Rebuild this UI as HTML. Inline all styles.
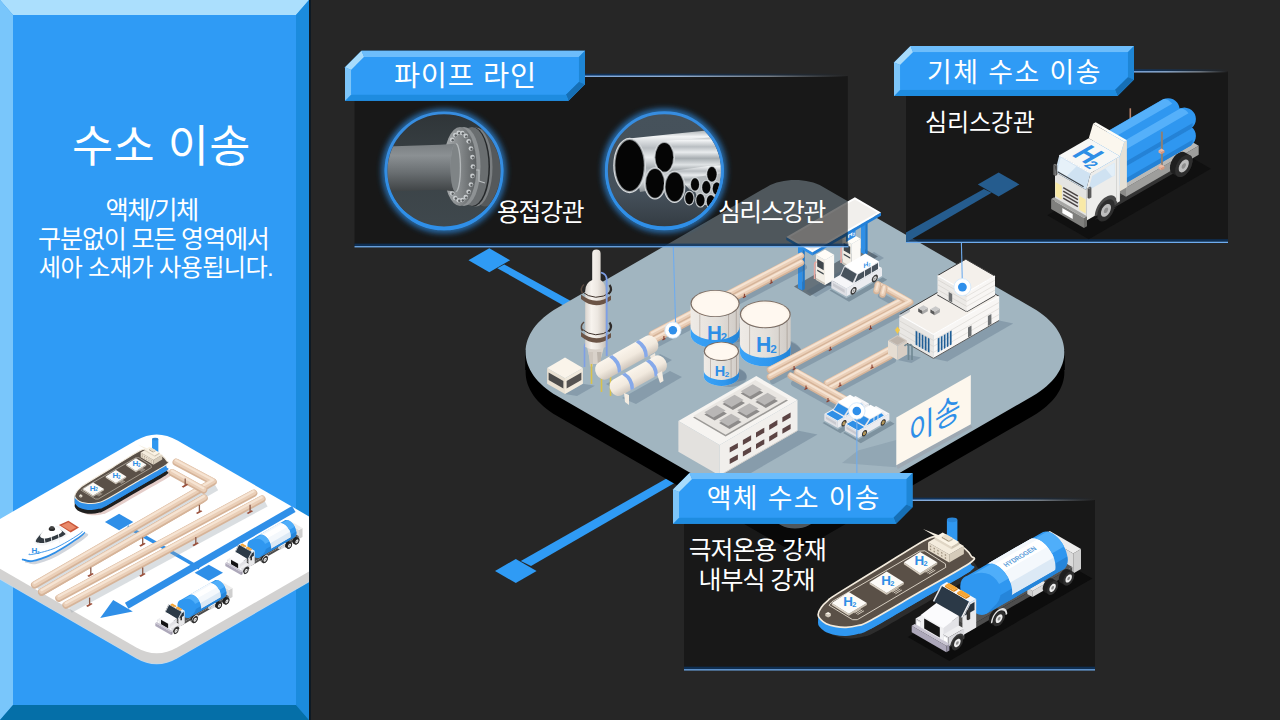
<!DOCTYPE html>
<html><head><meta charset="utf-8"><title>수소 이송</title>
<style>html,body{margin:0;padding:0;background:#262626;width:1280px;height:720px;overflow:hidden;font-family:"Liberation Sans",sans-serif}</style>
</head><body>
<svg width="1280" height="720" viewBox="0 0 1280 720" style="display:block">
<defs><clipPath id="lpclip"><rect x="0" y="400" width="309" height="300"/></clipPath>
<linearGradient id="tankg" x1="0" x2="1" y1="0" y2="0"><stop offset="0" stop-color="#EFEBE6"/><stop offset="0.55" stop-color="#E3DFDA"/><stop offset="1" stop-color="#CFCAC5"/></linearGradient>
<linearGradient id="bandg" x1="0" x2="1" y1="0" y2="0"><stop offset="0" stop-color="#3BA3F7"/><stop offset="0.6" stop-color="#2F97EE"/><stop offset="1" stop-color="#2283D6"/></linearGradient>
<linearGradient id="towg" x1="0" x2="1" y1="0" y2="0"><stop offset="0" stop-color="#DAD4CE"/><stop offset="0.3" stop-color="#F7F3EE"/><stop offset="0.6" stop-color="#ECE7E1"/><stop offset="1" stop-color="#C9C2BB"/></linearGradient>
<linearGradient id="htg" x1="0" x2="0" y1="0" y2="1"><stop offset="0" stop-color="#FBF5EC"/><stop offset="0.55" stop-color="#F1E9DE"/><stop offset="1" stop-color="#CFC6BC"/></linearGradient>
<linearGradient id="lnf" x1="0" x2="1" y1="0" y2="0"><stop offset="0" stop-color="#8DB9F0"/><stop offset="0.35" stop-color="#9DBBE0"/><stop offset="0.7" stop-color="#9aa3ad" stop-opacity="0.8"/><stop offset="1" stop-color="#8a8f96" stop-opacity="0"/></linearGradient>
<linearGradient id="lng" x1="0" x2="1" y1="0" y2="0"><stop offset="0" stop-color="#0B3566" stop-opacity="0.9"/><stop offset="0.5" stop-color="#0B3566" stop-opacity="0.5"/><stop offset="1" stop-color="#0B3566" stop-opacity="0"/></linearGradient>
<filter id="glow" x="-30%" y="-30%" width="160%" height="160%"><feGaussianBlur stdDeviation="3.2"/></filter>
<clipPath id="c1"><circle cx="444" cy="170.9" r="56.5"/></clipPath>
<clipPath id="c2"><circle cx="664.4" cy="170.8" r="56.5"/></clipPath>
<linearGradient id="pg1" x1="0" x2="0" y1="0" y2="1"><stop offset="0" stop-color="#7a7f82"/><stop offset="0.25" stop-color="#8b9093"/><stop offset="0.6" stop-color="#6a6f72"/><stop offset="1" stop-color="#3f4345"/></linearGradient>
<linearGradient id="fl1" x1="0" x2="1" y1="0" y2="0"><stop offset="0" stop-color="#a9adaf"/><stop offset="0.5" stop-color="#85898b"/><stop offset="1" stop-color="#5b5f61"/></linearGradient>
<linearGradient id="sil" x1="0" x2="0" y1="0" y2="1"><stop offset="0" stop-color="#9aa0a4"/><stop offset="0.12" stop-color="#f2f4f5"/><stop offset="0.3" stop-color="#b9bec2"/><stop offset="0.45" stop-color="#e9ecee"/><stop offset="0.62" stop-color="#a7adb1"/><stop offset="0.8" stop-color="#dfe3e5"/><stop offset="1" stop-color="#8c9296"/></linearGradient>
<linearGradient id="cbg2" x1="0" x2="0" y1="0" y2="1"><stop offset="0" stop-color="#46525b"/><stop offset="0.7" stop-color="#45505a"/><stop offset="1" stop-color="#333b42"/></linearGradient>
<linearGradient id="cbg1" x1="0" x2="0" y1="0" y2="1"><stop offset="0" stop-color="#2f3538"/><stop offset="0.5" stop-color="#3b4347"/><stop offset="1" stop-color="#3f484d"/></linearGradient></defs>
<rect width="1280" height="720" fill="#262626"/>
<rect x="0" y="0" width="309" height="720" fill="#2F9BF5"/>
<polygon points="0.0,0.0 309.0,0.0 296.0,15.0 13.0,15.0" fill="#ABDFFD" />
<polygon points="0.0,0.0 13.0,15.0 13.0,705.0 0.0,720.0" fill="#79C6FB" />
<polygon points="309.0,0.0 309.0,720.0 296.0,705.0 296.0,15.0" fill="#1B8BDD" />
<polygon points="0.0,720.0 13.0,705.0 296.0,705.0 309.0,720.0" fill="#056FA8" />
<rect x="309" y="0" width="2" height="720" fill="#0e1a24"/>
<g clip-path="url(#lpclip)">
<path d="M-43.2,554.8 L135.9,451.4 Q156.7,439.4 177.5,451.4 L356.6,554.8 L177.5,658.2 Q156.7,670.2 135.9,658.2 Z" fill="#BFD9EE"/>
<path d="M-43.2,554.1 L135.9,450.7 Q156.7,438.7 177.5,450.7 L356.6,554.1 L177.5,657.5 Q156.7,669.5 135.9,657.5 Z" fill="#D3D2D1"/>
<rect x="-40" y="543.9" width="400" height="10.2" fill="#D3D2D1"/>
<path d="M-43.2,543.9 L135.9,440.5 Q156.7,428.5 177.5,440.5 L356.6,543.9 L177.5,647.3 Q156.7,659.3 135.9,647.3 Z" fill="#FFFFFF"/>
<g transform="translate(-416.1 127.2) scale(0.6)"><path d="M818.1,614.7 C818.2,612.7 819.5,609.9 821.2,607.5 C822.8,605.1 825.4,602.5 828.1,600.3 C830.7,598.0 828.1,599.6 837.1,593.9 C846.1,588.3 867.2,575.5 882.2,566.3 C897.2,557.1 917.7,543.5 927.3,538.9 C937.0,534.2 935.5,537.9 940.0,538.5 C944.5,539.1 950.2,540.8 954.4,542.5 C958.6,544.2 962.4,546.6 965.2,548.8 C968.0,551.1 970.3,553.7 971.2,556.0 C972.0,558.3 978.8,556.8 970.3,562.7 C961.8,568.7 936.9,582.1 920.1,591.8 C903.3,601.5 879.9,615.4 869.6,621.0 C859.2,626.6 861.7,624.5 857.8,625.5 C853.9,626.6 849.9,627.2 846.1,627.3 C842.3,627.5 838.6,627.0 835.3,626.4 C832.0,625.8 828.7,624.9 826.2,623.7 C823.8,622.5 821.8,620.7 820.5,619.2 C819.1,617.7 818.0,616.6 818.1,614.7 Z" fill="rgba(225,200,195,0.9)" transform="translate(6,19.5)"/>
<path d="M818.1,614.7 C818.2,612.7 819.5,609.9 821.2,607.5 C822.8,605.1 825.4,602.5 828.1,600.3 C830.7,598.0 828.1,599.6 837.1,593.9 C846.1,588.3 867.2,575.5 882.2,566.3 C897.2,557.1 917.7,543.5 927.3,538.9 C937.0,534.2 935.5,537.9 940.0,538.5 C944.5,539.1 950.2,540.8 954.4,542.5 C958.6,544.2 962.4,546.6 965.2,548.8 C968.0,551.1 970.3,553.7 971.2,556.0 C972.0,558.3 978.8,556.8 970.3,562.7 C961.8,568.7 936.9,582.1 920.1,591.8 C903.3,601.5 879.9,615.4 869.6,621.0 C859.2,626.6 861.7,624.5 857.8,625.5 C853.9,626.6 849.9,627.2 846.1,627.3 C842.3,627.5 838.6,627.0 835.3,626.4 C832.0,625.8 828.7,624.9 826.2,623.7 C823.8,622.5 821.8,620.7 820.5,619.2 C819.1,617.7 818.0,616.6 818.1,614.7 Z" fill="#1f1f1f" transform="translate(0,17.0)"/>
<polygon points="818.1,614.7 970.3,562.7 970.3,579.7 818.1,631.7" fill="#1f1f1f" />
<path d="M818.1,625.2 C818.2,623.3 819.5,620.4 821.2,618.0 C822.8,615.6 825.4,613.0 828.1,610.8 C830.7,608.5 828.1,610.1 837.1,604.5 C846.1,598.8 867.2,586.0 882.2,576.9 C897.2,567.7 917.7,554.1 927.3,549.4 C937.0,544.8 935.5,548.5 940.0,549.1 C944.5,549.7 950.2,551.3 954.4,553.0 C958.6,554.7 962.4,557.1 965.2,559.3 C968.0,561.6 970.3,564.3 971.2,566.6 C972.0,568.9 978.8,567.3 970.3,573.2 C961.8,579.2 936.9,592.6 920.1,602.3 C903.3,612.0 879.9,625.9 869.6,631.6 C859.2,637.2 861.7,635.0 857.8,636.1 C853.9,637.1 849.9,637.7 846.1,637.9 C842.3,638.0 838.6,637.6 835.3,637.0 C832.0,636.4 828.7,635.5 826.2,634.3 C823.8,633.1 821.8,631.2 820.5,629.7 C819.1,628.2 818.0,627.2 818.1,625.2 Z" fill="#2F8FE8"/>
<polygon points="818.1,614.7 970.3,562.7 970.3,573.2 818.1,625.2" fill="#2F8FE8" />
<polygon points="970.3,562.7 869.6,621.0 869.6,631.6 970.3,573.2" fill="#2F8FE8" />
<path d="M818.1,614.7 C818.2,612.7 819.5,609.9 821.2,607.5 C822.8,605.1 825.4,602.5 828.1,600.3 C830.7,598.0 828.1,599.6 837.1,593.9 C846.1,588.3 867.2,575.5 882.2,566.3 C897.2,557.1 917.7,543.5 927.3,538.9 C937.0,534.2 935.5,537.9 940.0,538.5 C944.5,539.1 950.2,540.8 954.4,542.5 C958.6,544.2 962.4,546.6 965.2,548.8 C968.0,551.1 970.3,553.7 971.2,556.0 C972.0,558.3 978.8,556.8 970.3,562.7 C961.8,568.7 936.9,582.1 920.1,591.8 C903.3,601.5 879.9,615.4 869.6,621.0 C859.2,626.6 861.7,624.5 857.8,625.5 C853.9,626.6 849.9,627.2 846.1,627.3 C842.3,627.5 838.6,627.0 835.3,626.4 C832.0,625.8 828.7,624.9 826.2,623.7 C823.8,622.5 821.8,620.7 820.5,619.2 C819.1,617.7 818.0,616.6 818.1,614.7 Z" fill="#5A5047" stroke="#F3EBDD" stroke-width="1.7" stroke-linejoin="round"/>
<polygon points="829.0,605.3 832.0,601.7 919.4,551.2 924.8,550.8 945.4,563.8 945.7,567.4 857.3,619.7 852.6,619.7" fill="none" stroke="#F3EBDD" stroke-width="0.8" stroke-linejoin="round"/>
<polygon points="831.7,603.0 848.8,613.8 848.8,615.8 831.7,605.0" fill="#D9D0C2" />
<polygon points="848.8,613.8 866.9,603.0 866.9,605.0 848.8,615.8" fill="#C9C0B2" />
<polygon points="831.7,603.0 848.8,592.1 866.9,603.0 848.8,613.8" fill="#FDFBF7" />
<g fill="#2E8EE6" transform="translate(844.10 605.76) skewY(0.0)"><text x="-0.89" y="0" font-family="Liberation Sans, sans-serif" font-weight="bold" font-size="13.4">H<tspan x="8.16" dy="1.1" font-size="7.4">2</tspan></text></g>
<line x1="854.3" y1="612.8" x2="860.8" y2="609.0" stroke="#EDE4D6" stroke-width="0.80" />
<line x1="855.9" y1="613.7" x2="862.4" y2="609.9" stroke="#EDE4D6" stroke-width="0.80" />
<line x1="857.5" y1="614.6" x2="864.0" y2="610.8" stroke="#EDE4D6" stroke-width="0.80" />
<polygon points="869.6,582.2 886.7,593.0 886.7,595.0 869.6,584.2" fill="#D9D0C2" />
<polygon points="886.7,593.0 903.9,582.2 903.9,584.2 886.7,595.0" fill="#C9C0B2" />
<polygon points="869.6,582.2 886.7,571.4 903.9,582.2 886.7,593.0" fill="#FDFBF7" />
<g fill="#2E8EE6" transform="translate(882.00 585.36) skewY(0.0)"><text x="-0.89" y="0" font-family="Liberation Sans, sans-serif" font-weight="bold" font-size="13.4">H<tspan x="8.16" dy="1.1" font-size="7.4">2</tspan></text></g>
<line x1="892.2" y1="592.0" x2="898.7" y2="588.2" stroke="#EDE4D6" stroke-width="0.80" />
<line x1="893.8" y1="592.9" x2="900.3" y2="589.1" stroke="#EDE4D6" stroke-width="0.80" />
<line x1="895.4" y1="593.8" x2="901.9" y2="590.0" stroke="#EDE4D6" stroke-width="0.80" />
<polygon points="903.9,562.3 920.1,573.2 920.1,575.2 903.9,564.3" fill="#D9D0C2" />
<polygon points="920.1,573.2 937.3,562.3 937.3,564.3 920.1,575.2" fill="#C9C0B2" />
<polygon points="903.9,562.3 920.1,551.9 937.3,562.3 920.1,573.2" fill="#FDFBF7" />
<g fill="#2E8EE6" transform="translate(915.39 565.14) skewY(0.0)"><text x="-0.89" y="0" font-family="Liberation Sans, sans-serif" font-weight="bold" font-size="13.4">H<tspan x="8.16" dy="1.1" font-size="7.4">2</tspan></text></g>
<line x1="925.6" y1="572.2" x2="932.1" y2="568.4" stroke="#EDE4D6" stroke-width="0.80" />
<line x1="927.2" y1="573.1" x2="933.7" y2="569.3" stroke="#EDE4D6" stroke-width="0.80" />
<line x1="928.8" y1="574.0" x2="935.3" y2="570.2" stroke="#EDE4D6" stroke-width="0.80" />
<polygon points="825.3,613.5 828.1,615.1 828.1,617.5 825.3,615.9" fill="#CFC6B8" />
<polygon points="828.1,615.1 830.8,613.5 830.8,615.9 828.1,617.5" fill="#DDD4C6" />
<polygon points="828.1,611.9 830.8,613.5 828.1,615.1 825.3,613.5" fill="#F7F0E4" />
<rect x="946.9" y="519.8" width="10.5" height="23.7" fill="#2F97F0"/>
<ellipse cx="952.1" cy="543.5" rx="5.2" ry="2.6" fill="#2F97F0" />
<ellipse cx="952.1" cy="519.8" rx="5.2" ry="2.4" fill="#2A86D8" />
<polygon points="928.0,542.2 949.2,554.5 949.2,562.5 928.0,550.2" fill="#E6DCCB" />
<polygon points="949.2,554.5 963.9,546.0 963.9,554.0 949.2,562.5" fill="#D5CBBA" />
<polygon points="942.7,533.8 963.9,546.0 949.2,554.5 928.0,542.2" fill="#F4ECDD" />
<polygon points="929.9,548.2 931.2,549.0 931.2,550.5 929.9,549.8" fill="#9c8f7c" />
<polygon points="929.9,545.2 931.2,546.0 931.2,547.5 929.9,546.8" fill="#9c8f7c" />
<polygon points="933.6,550.4 934.9,551.1 934.9,552.6 933.6,551.9" fill="#9c8f7c" />
<polygon points="933.6,547.4 934.9,548.1 934.9,549.6 933.6,548.9" fill="#9c8f7c" />
<polygon points="937.3,552.5 938.6,553.3 938.6,554.8 937.3,554.0" fill="#9c8f7c" />
<polygon points="937.3,549.5 938.6,550.3 938.6,551.8 937.3,551.0" fill="#9c8f7c" />
<polygon points="941.1,554.7 942.4,555.4 942.4,556.9 941.1,556.2" fill="#9c8f7c" />
<polygon points="941.1,551.7 942.4,552.4 942.4,553.9 941.1,553.2" fill="#9c8f7c" />
<polygon points="944.8,556.9 946.1,557.6 946.1,559.1 944.8,558.4" fill="#9c8f7c" />
<polygon points="944.8,553.9 946.1,554.6 946.1,556.1 944.8,555.4" fill="#9c8f7c" />
<polygon points="934.9,537.1 951.4,546.6 951.4,549.2 934.9,539.8" fill="#E0D6C5" />
<polygon points="951.4,546.6 959.2,542.1 959.2,544.8 951.4,549.2" fill="#CFC5B4" />
<polygon points="942.7,532.6 959.2,542.1 951.4,546.6 934.9,537.1" fill="#FBF4E6" />
<polygon points="941.8,536.4 948.8,540.4 948.8,542.1 941.8,538.1" fill="#A89C86" />
<polygon points="948.8,540.4 952.7,538.1 952.7,539.9 948.8,542.1" fill="#C2B8A6" />
<polygon points="945.7,534.1 952.7,538.1 948.8,540.4 941.8,536.4" fill="#EADFCB" />
<polygon points="938.0,538.0 940.2,535.8 923.0,529.0" fill="#F6EFE2" /></g>
<polygon points="119.1,513.7 133.3,522.0 119.1,530.3 104.9,522.0" fill="#2F8FE8" />
<polygon points="208.8,564.7 223.0,572.7 208.8,580.7 194.6,572.7" fill="#2F8FE8" />
<polyline points="127.4,526.7 199.4,568.0" fill="none" stroke="#2F8FE8" stroke-width="3.60" />
<polyline points="293.8,509.0 126.7,605.8" fill="none" stroke="#2F8FE8" stroke-width="7.00" />
<polygon points="100.2,618.0 113.2,600.1 132.8,611.4" fill="#2F8FE8" />
<polyline points="38.6,590.0 216.4,487.3" fill="none" stroke="rgba(150,160,170,0.35)" stroke-width="7.00" />
<polyline points="34.6,585.0 213.1,481.9 176.2,462.3" fill="none" stroke="#D6B499" stroke-width="7.30" stroke-linecap="round" stroke-linejoin="round"/>
<polyline points="34.6,584.1 213.1,481.0 176.2,461.4" fill="none" stroke="#EACFB8" stroke-width="5.40" stroke-linecap="round" stroke-linejoin="round"/>
<polyline points="34.4,583.1 212.9,480.0 176.0,460.4" fill="none" stroke="#F6E4D3" stroke-width="2.19" stroke-linecap="round" stroke-linejoin="round"/>
<polyline points="41.7,592.1 202.2,499.3" fill="none" stroke="#D6B499" stroke-width="7.30" stroke-linecap="round" stroke-linejoin="round"/>
<polyline points="41.7,591.2 202.2,498.5" fill="none" stroke="#EACFB8" stroke-width="5.40" stroke-linecap="round" stroke-linejoin="round"/>
<polyline points="41.5,590.2 202.0,497.4" fill="none" stroke="#F6E4D3" stroke-width="2.19" stroke-linecap="round" stroke-linejoin="round"/>
<polyline points="203.6,490.1 172.2,472.7" fill="none" stroke="#D6B499" stroke-width="7.30" stroke-linecap="round" stroke-linejoin="round"/>
<polyline points="203.6,489.2 172.2,471.8" fill="none" stroke="#EACFB8" stroke-width="5.40" stroke-linecap="round" stroke-linejoin="round"/>
<polyline points="203.4,488.2 172.0,470.8" fill="none" stroke="#F6E4D3" stroke-width="2.19" stroke-linecap="round" stroke-linejoin="round"/>
<polyline points="41.7,592.1 204.1,498.1" fill="none" stroke="#D6B499" stroke-width="7.30" stroke-linecap="round" stroke-linejoin="round"/>
<polyline points="41.7,591.2 204.1,497.3" fill="none" stroke="#EACFB8" stroke-width="5.40" stroke-linecap="round" stroke-linejoin="round"/>
<polyline points="41.5,590.2 203.9,496.2" fill="none" stroke="#F6E4D3" stroke-width="2.19" stroke-linecap="round" stroke-linejoin="round"/>
<path d="M90.8,574.6 v-7" stroke="#8a5a48" stroke-width="1.3"/><path d="M87.3,575.8 l5,-2.8 l1.5,1 l-5,2.9 z" fill="#9b4f3a"/>
<path d="M142.7,544.4 v-7" stroke="#8a5a48" stroke-width="1.3"/><path d="M139.2,545.6 l5,-2.8 l1.5,1 l-5,2.9 z" fill="#9b4f3a"/>
<path d="M199.4,511.8 v-7" stroke="#8a5a48" stroke-width="1.3"/><path d="M195.9,513.0 l5,-2.8 l1.5,1 l-5,2.9 z" fill="#9b4f3a"/>
<path d="M185.2,485.4 v-7" stroke="#8a5a48" stroke-width="1.3"/><path d="M181.7,486.6 l5,-2.8 l1.5,1 l-5,2.9 z" fill="#9b4f3a"/>
<polyline points="70.0,609.6 265.9,503.4" fill="none" stroke="rgba(150,160,170,0.35)" stroke-width="7.00" />
<polyline points="58.9,598.2 253.7,493.2" fill="none" stroke="#D6B499" stroke-width="7.30" stroke-linecap="round" stroke-linejoin="round"/>
<polyline points="58.9,597.3 253.7,492.3" fill="none" stroke="#EACFB8" stroke-width="5.40" stroke-linecap="round" stroke-linejoin="round"/>
<polyline points="58.7,596.3 253.5,491.3" fill="none" stroke="#F6E4D3" stroke-width="2.19" stroke-linecap="round" stroke-linejoin="round"/>
<polyline points="66.0,605.1 261.9,499.1" fill="none" stroke="#D6B499" stroke-width="7.30" stroke-linecap="round" stroke-linejoin="round"/>
<polyline points="66.0,604.2 261.9,498.2" fill="none" stroke="#EACFB8" stroke-width="5.40" stroke-linecap="round" stroke-linejoin="round"/>
<polyline points="65.8,603.2 261.7,497.2" fill="none" stroke="#F6E4D3" stroke-width="2.19" stroke-linecap="round" stroke-linejoin="round"/>
<path d="M89.6,604.6 v-7" stroke="#8a5a48" stroke-width="1.3"/><path d="M86.1,605.8 l5,-2.8 l1.5,1 l-5,2.9 z" fill="#9b4f3a"/>
<path d="M142.7,574.6 v-7" stroke="#8a5a48" stroke-width="1.3"/><path d="M139.2,575.8 l5,-2.8 l1.5,1 l-5,2.9 z" fill="#9b4f3a"/>
<path d="M195.8,543.9 v-7" stroke="#8a5a48" stroke-width="1.3"/><path d="M192.3,545.1 l5,-2.8 l1.5,1 l-5,2.9 z" fill="#9b4f3a"/>
<path d="M250.1,511.8 v-7" stroke="#8a5a48" stroke-width="1.3"/><path d="M246.6,513.0 l5,-2.8 l1.5,1 l-5,2.9 z" fill="#9b4f3a"/>
<path d="M22.4,556.2 C23.9,553.2 27.1,546.8 34.2,540.9 C41.2,534.9 57.1,522.5 64.8,520.3 C72.6,518.2 77.8,525.8 80.9,527.9 C84.0,530.0 87.5,529.1 83.3,533.1 C79.0,537.0 63.6,547.0 55.4,551.5 C47.2,555.9 39.3,558.5 34.2,559.7 C29.0,561.0 26.7,559.6 24.7,559.0 C22.8,558.4 20.8,559.2 22.4,556.2 Z" fill="rgba(190,195,205,0.7)" transform="translate(3,4)"/>
<path d="M22.4,558.1 C23.9,555.1 27.1,548.7 34.2,542.8 C41.2,536.8 57.1,524.4 64.8,522.2 C72.6,520.1 77.8,527.6 80.9,529.8 C84.0,531.9 87.5,531.0 83.3,535.0 C79.0,538.9 63.6,548.9 55.4,553.4 C47.2,557.8 39.3,560.4 34.2,561.6 C29.0,562.9 26.7,561.5 24.7,560.9 C22.8,560.3 20.8,561.1 22.4,558.1 Z" fill="#2F8FE8"/>
<path d="M22.4,556.2 C23.9,553.2 27.1,546.8 34.2,540.9 C41.2,534.9 57.1,522.5 64.8,520.3 C72.6,518.2 77.8,525.8 80.9,527.9 C84.0,530.0 87.5,529.1 83.3,533.1 C79.0,537.0 63.6,547.0 55.4,551.5 C47.2,555.9 39.3,558.5 34.2,559.7 C29.0,561.0 26.7,559.6 24.7,559.0 C22.8,558.4 20.8,559.2 22.4,556.2 Z" fill="#FFFFFF"/>
<path d="M29.4,553.8 C25.0,556.6 46.7,551.7 55.4,547.9 C64.1,544.2 86.2,530.4 81.8,531.4" fill="none" stroke="#2F8FE8" stroke-width="0.9"/>
<polygon points="58.9,525.1 68.4,520.8 79.0,527.4 70.7,532.6" fill="#C9573A" />
<polygon points="61.3,525.5 68.4,522.2 76.2,527.4 70.0,530.7" fill="#E98A6A" />
<path d="M34.6,540.9 C35.6,538.5 39.7,532.7 43.6,530.2 C47.5,527.8 53.8,525.6 57.8,526.0 C61.7,526.4 66.0,530.8 67.2,532.6 C68.4,534.4 68.4,534.8 64.8,536.9 C61.3,538.9 50.5,543.6 46.0,544.9 C41.4,546.1 39.6,545.1 37.7,544.4 C35.8,543.7 33.6,543.2 34.6,540.9 Z" fill="#F4F6F8"/>
<path d="M36.0,540.4 C36.9,538.7 40.2,534.1 43.6,532.1 C47.0,530.1 53.0,528.2 56.6,528.4 C60.1,528.5 63.8,531.8 64.8,533.1 C65.9,534.3 66.1,534.3 63.0,535.9 C59.8,537.5 50.1,541.4 46.0,542.5 C41.9,543.6 40.1,542.9 38.4,542.5 C36.8,542.2 35.2,542.1 36.0,540.4 Z" fill="#333b42"/>
<line x1="43.1" y1="530.2" x2="45.0" y2="543.2" stroke="#F4F6F8" stroke-width="0.90" />
<line x1="50.2" y1="530.2" x2="52.1" y2="543.2" stroke="#F4F6F8" stroke-width="0.90" />
<line x1="57.8" y1="530.2" x2="59.7" y2="543.2" stroke="#F4F6F8" stroke-width="0.90" />
<path d="M40.1,536.1 C40.3,534.6 43.4,530.6 46.0,529.1 C48.5,527.5 52.7,526.3 55.4,526.7 C58.1,527.1 62.0,530.0 62.0,531.4 C62.0,532.9 58.3,534.3 55.4,535.4 C52.5,536.6 47.3,538.4 44.8,538.5 C42.2,538.6 39.9,537.7 40.1,536.1 Z" fill="#FFFFFF"/>
<ellipse cx="51.9" cy="529.1" rx="3.2" ry="2.0" fill="#2b2b2b" />
<ellipse cx="51.9" cy="527.4" rx="2.4" ry="1.5" fill="#444" />
<g fill="#2E8EE6" transform="translate(32.00 553.06) skewY(0.0)"><text x="-0.53" y="0" font-family="Liberation Sans, sans-serif" font-weight="bold" font-size="8">H<tspan x="4.88" dy="0.66" font-size="4.4">2</tspan></text></g>
<polygon points="284.7,521.8 299.0,530.0 299.0,539.1 284.7,530.9" fill="#DADADA" />
<polygon points="299.0,530.0 302.5,527.9 302.5,537.1 299.0,539.1" fill="#CFCFCF" />
<polygon points="288.3,519.7 302.5,527.9 299.0,530.0 284.7,521.8" fill="#EDEDED" />
<polygon points="239.3,556.7 251.2,563.5 251.2,565.8 239.3,558.9" fill="#444" />
<polygon points="251.2,563.5 298.6,536.1 298.6,538.4 251.2,565.8" fill="#4d4d4d" />
<polygon points="286.7,529.3 298.6,536.1 251.2,563.5 239.3,556.7" fill="#555" />
<polygon points="278.0,545.7 280.4,547.1 280.4,549.8 278.0,548.5" fill="#CFCFCF" />
<polygon points="280.4,547.1 286.7,543.4 286.7,546.2 280.4,549.8" fill="#D9D9D9" />
<polygon points="284.3,542.1 286.7,543.4 280.4,547.1 278.0,545.7" fill="#E8E8E8" />
<polygon points="292.4,541.7 292.5,540.9 292.7,540.1 293.1,539.2 293.7,538.5 294.3,537.8 294.9,537.3 295.6,537.1 296.2,537.0 296.7,537.2 298.7,538.3 299.1,538.7 299.3,539.2 299.4,539.9 299.3,540.7 299.1,541.6 298.7,542.4 298.2,543.2 297.6,543.8 296.9,544.3 296.2,544.6 295.6,544.6 295.1,544.5 293.1,543.4 292.7,543.0 292.5,542.4" fill="#1f1f1f" />
<polygon points="294.4,542.9 294.5,542.0 294.7,541.2 295.1,540.4 295.6,539.6 296.2,539.0 296.9,538.5 297.6,538.2 298.2,538.1 298.7,538.3 299.1,538.7 299.3,539.2 299.4,539.9 299.3,540.7 299.1,541.6 298.7,542.4 298.2,543.2 297.6,543.8 296.9,544.3 296.2,544.6 295.6,544.6 295.1,544.5 294.7,544.1 294.5,543.6" fill="#2e2e2e" />
<polygon points="295.4,542.2 295.5,541.8 295.6,541.3 295.9,540.8 296.2,540.3 296.5,540.0 296.9,539.7 297.3,539.5 297.6,539.5 297.9,539.6 298.2,539.8 298.3,540.1 298.4,540.5 298.3,541.0 298.2,541.5 297.9,542.0 297.6,542.4 297.3,542.8 296.9,543.1 296.5,543.2 296.2,543.3 295.9,543.2 295.6,543.0 295.5,542.6" fill="#EDEDED" />
<polygon points="296.3,541.8 296.3,541.6 296.4,541.3 296.5,541.1 296.6,540.9 296.7,540.8 296.9,540.7 297.1,540.6 297.2,540.6 297.3,540.6 297.4,540.7 297.5,540.9 297.5,541.0 297.5,541.2 297.4,541.4 297.3,541.6 297.2,541.8 297.1,542.0 296.9,542.1 296.7,542.2 296.6,542.2 296.5,542.2 296.4,542.1 296.3,541.9" fill="#8f8f8f" />
<polygon points="285.1,546.0 285.1,545.1 285.4,544.3 285.8,543.5 286.3,542.7 286.9,542.0 287.6,541.6 288.2,541.3 288.8,541.2 289.4,541.4 291.3,542.5 291.7,542.9 292.0,543.5 292.1,544.2 292.0,545.0 291.7,545.8 291.3,546.7 290.8,547.4 290.2,548.1 289.6,548.5 288.9,548.8 288.3,548.9 287.8,548.7 285.8,547.6 285.4,547.2 285.1,546.7" fill="#1f1f1f" />
<polygon points="287.0,547.1 287.1,546.3 287.4,545.4 287.8,544.6 288.3,543.8 288.9,543.2 289.6,542.7 290.2,542.4 290.8,542.4 291.3,542.5 291.7,542.9 292.0,543.5 292.1,544.2 292.0,545.0 291.7,545.8 291.3,546.7 290.8,547.4 290.2,548.1 289.6,548.6 288.9,548.8 288.3,548.9 287.8,548.7 287.4,548.4 287.1,547.8" fill="#2e2e2e" />
<polygon points="288.1,546.5 288.1,546.0 288.3,545.5 288.5,545.0 288.8,544.6 289.2,544.2 289.6,543.9 289.9,543.8 290.3,543.7 290.6,543.8 290.8,544.1 291.0,544.4 291.0,544.8 291.0,545.3 290.8,545.7 290.6,546.2 290.3,546.7 289.9,547.0 289.6,547.3 289.2,547.5 288.8,547.5 288.5,547.4 288.3,547.2 288.1,546.9" fill="#EDEDED" />
<polygon points="288.9,546.0 288.9,545.8 289.0,545.6 289.1,545.4 289.2,545.2 289.4,545.0 289.6,544.9 289.7,544.8 289.9,544.8 290.0,544.9 290.1,545.0 290.2,545.1 290.2,545.3 290.2,545.5 290.1,545.7 290.0,545.9 289.9,546.1 289.7,546.2 289.6,546.4 289.4,546.4 289.2,546.4 289.1,546.4 289.0,546.3 288.9,546.2" fill="#8f8f8f" />
<polygon points="260.5,560.1 260.6,559.3 260.9,558.4 261.3,557.5 261.8,556.7 262.5,556.0 263.2,555.5 263.9,555.2 264.5,555.1 265.1,555.3 267.1,556.4 267.5,556.8 267.7,557.4 267.8,558.2 267.7,559.0 267.5,559.9 267.1,560.8 266.5,561.6 265.8,562.3 265.1,562.8 264.4,563.1 263.8,563.2 263.2,563.0 261.3,561.9 260.9,561.5 260.6,560.9" fill="#1f1f1f" />
<polygon points="262.5,561.3 262.6,560.4 262.8,559.5 263.2,558.6 263.8,557.8 264.5,557.1 265.1,556.6 265.8,556.3 266.5,556.3 267.0,556.4 267.5,556.8 267.7,557.4 267.8,558.2 267.7,559.0 267.5,559.9 267.0,560.8 266.5,561.6 265.8,562.3 265.1,562.8 264.5,563.1 263.8,563.2 263.2,563.0 262.8,562.6 262.6,562.0" fill="#2e2e2e" />
<polygon points="263.6,560.6 263.6,560.1 263.8,559.6 264.0,559.1 264.4,558.6 264.7,558.2 265.1,557.9 265.6,557.8 265.9,557.7 266.2,557.8 266.5,558.0 266.7,558.4 266.7,558.8 266.7,559.3 266.5,559.8 266.2,560.4 265.9,560.8 265.6,561.2 265.1,561.5 264.7,561.7 264.4,561.7 264.0,561.6 263.8,561.4 263.6,561.1" fill="#EDEDED" />
<polygon points="264.5,560.1 264.5,559.9 264.6,559.7 264.7,559.4 264.8,559.2 265.0,559.1 265.1,558.9 265.3,558.9 265.5,558.9 265.6,558.9 265.7,559.0 265.8,559.1 265.8,559.3 265.8,559.5 265.7,559.8 265.6,560.0 265.5,560.2 265.3,560.4 265.1,560.5 265.0,560.6 264.8,560.6 264.7,560.5 264.6,560.4 264.5,560.3" fill="#8f8f8f" />
<polygon points="261.4,561.9 261.5,560.9 261.8,559.8 262.2,558.7 262.8,557.7 263.5,556.8 264.3,556.0 265.1,555.4 266.0,555.0 266.8,554.9 267.5,555.0 268.1,555.3 268.5,555.9 268.8,556.6 268.9,557.6 268.1,558.0 268.1,557.3 267.9,556.7 267.5,556.2 267.0,555.9 266.5,555.8 265.8,556.0 265.1,556.3 264.5,556.7 263.8,557.4 263.3,558.1 262.8,558.9 262.4,559.8 262.2,560.6 262.1,561.5" fill="#E4E4E4" />
<polygon points="247.4,545.1 247.6,543.5 248.1,542.1 248.9,541.0 284.1,520.8 285.2,520.1 286.5,519.9 287.9,520.2 289.5,520.9 291.0,522.0 292.5,523.4 293.8,525.1 294.9,527.0 295.7,529.0 296.2,531.0 296.4,532.8 296.2,534.5 295.7,535.9 294.9,537.0 258.6,557.9 257.3,558.1 255.9,557.8 254.3,557.1 252.8,556.0 251.3,554.6 250.0,552.9 248.9,551.0 248.1,549.0 247.6,547.0" fill="#2F97F0" />
<polygon points="294.4,537.3 294.5,537.2 294.7,537.1 294.8,537.0 295.0,536.9 295.1,536.7 295.3,536.6 295.4,536.4 295.5,536.2 295.6,536.1 295.7,535.9 295.8,535.7 295.9,535.5 296.0,535.3 296.1,535.1 296.1,534.8 296.2,534.6 296.2,534.4 296.3,534.1 296.3,533.9 296.4,533.6 296.4,533.4 296.4,533.1 296.4,532.8 296.4,532.5 296.4,532.3 296.3,532.0 296.3,531.7 296.3,531.4 261.1,551.7 261.2,552.0 261.2,552.3 261.2,552.6 261.2,552.8 261.2,553.1 261.2,553.4 261.2,553.6 261.2,553.9 261.2,554.2 261.1,554.4 261.1,554.7 261.0,554.9 261.0,555.1 260.9,555.3 260.8,555.6 260.8,555.8 260.7,556.0 260.6,556.2 260.5,556.4 260.4,556.5 260.2,556.7 260.1,556.9 260.0,557.0 259.8,557.1 259.7,557.3 259.5,557.4 259.4,557.5 259.2,557.6" fill="#2585DA" />
<polygon points="290.7,537.6 290.8,536.9 290.9,536.2 290.8,535.5 290.8,534.7 290.6,533.9 290.5,533.1 290.2,532.3 289.9,531.5 289.6,530.7 289.2,529.9 288.8,529.1 288.3,528.4 287.8,527.6 287.2,526.9 286.7,526.3 286.1,525.7 285.5,525.1 284.8,524.7 284.2,524.2 283.6,523.9 283.0,523.6 282.3,523.4 281.7,523.2 281.1,523.1 280.6,523.1 280.0,523.2 279.5,523.4 279.1,523.6 259.3,535.0 259.8,534.8 260.3,534.6 260.8,534.5 261.4,534.5 262.0,534.6 262.6,534.8 263.2,535.0 263.8,535.3 264.5,535.6 265.1,536.1 265.7,536.5 266.3,537.1 266.9,537.7 267.5,538.3 268.0,539.0 268.5,539.8 269.0,540.5 269.5,541.3 269.8,542.1 270.2,542.9 270.5,543.7 270.7,544.5 270.9,545.3 271.0,546.1 271.1,546.9 271.1,547.6 271.1,548.3 271.0,549.0" fill="#DCE9F5" />
<polygon points="290.0,531.8 289.8,531.2 289.6,530.6 289.3,530.1 289.0,529.5 288.6,528.9 288.3,528.4 287.9,527.8 287.5,527.3 287.1,526.8 286.7,526.4 286.3,525.9 285.9,525.5 285.4,525.1 285.0,524.7 284.5,524.4 284.0,524.1 283.6,523.9 283.1,523.6 282.7,523.5 282.2,523.3 281.8,523.2 281.3,523.1 280.9,523.1 280.5,523.1 280.1,523.2 279.8,523.3 279.4,523.4 279.1,523.6 259.3,535.0 259.7,534.8 260.0,534.7 260.4,534.6 260.8,534.5 261.2,534.5 261.6,534.5 262.0,534.6 262.5,534.7 262.9,534.9 263.4,535.0 263.8,535.3 264.3,535.5 264.8,535.8 265.2,536.1 265.7,536.5 266.1,536.9 266.6,537.3 267.0,537.8 267.4,538.2 267.8,538.7 268.2,539.2 268.6,539.8 268.9,540.3 269.2,540.9 269.5,541.5 269.8,542.0 270.1,542.6 270.3,543.2" fill="#F4F8FC" />
<polygon points="287.2,526.9 287.0,526.7 286.9,526.5 286.7,526.4 286.6,526.2 286.4,526.0 286.3,525.9 286.1,525.7 286.0,525.6 285.8,525.5 285.7,525.3 285.5,525.2 285.3,525.0 285.2,524.9 285.0,524.8 284.9,524.7 284.7,524.5 284.5,524.4 284.4,524.3 284.2,524.2 284.0,524.1 283.9,524.0 283.7,523.9 283.6,523.9 283.4,523.8 283.2,523.7 283.1,523.6 282.9,523.6 282.7,523.5 263.0,534.9 263.2,535.0 263.3,535.0 263.5,535.1 263.6,535.2 263.8,535.3 264.0,535.3 264.1,535.4 264.3,535.5 264.5,535.6 264.6,535.7 264.8,535.8 265.0,535.9 265.1,536.1 265.3,536.2 265.4,536.3 265.6,536.4 265.8,536.6 265.9,536.7 266.1,536.9 266.2,537.0 266.4,537.1 266.5,537.3 266.7,537.4 266.9,537.6 267.0,537.8 267.2,537.9 267.3,538.1 267.4,538.3" fill="#FFFFFF" />
<polygon points="288.8,540.5 288.9,540.4 289.0,540.4 289.1,540.3 289.2,540.2 289.3,540.2 289.4,540.1 289.5,540.0 289.6,539.9 289.6,539.8 289.7,539.8 289.8,539.7 289.9,539.6 290.0,539.5 290.0,539.4 290.1,539.3 290.1,539.1 290.2,539.0 290.3,538.9 290.3,538.8 290.4,538.7 290.4,538.5 290.5,538.4 290.5,538.3 290.6,538.2 290.6,538.0 290.6,537.9 290.7,537.7 290.7,537.6 271.0,549.0 270.9,549.1 270.9,549.3 270.9,549.4 270.8,549.6 270.8,549.7 270.7,549.8 270.7,549.9 270.6,550.1 270.6,550.2 270.5,550.3 270.5,550.4 270.4,550.5 270.3,550.7 270.3,550.8 270.2,550.9 270.1,551.0 270.1,551.1 270.0,551.2 269.9,551.2 269.8,551.3 269.7,551.4 269.7,551.5 269.6,551.6 269.5,551.6 269.4,551.7 269.3,551.8 269.2,551.8 269.1,551.9" fill="#2585DA" />
<polygon points="294.8,526.8 294.6,526.4 294.4,526.0 294.1,525.7 293.9,525.3 293.7,524.9 293.4,524.6 293.2,524.3 292.9,523.9 292.7,523.6 292.4,523.3 292.1,523.0 291.8,522.7 291.6,522.4 291.3,522.2 291.0,521.9 290.7,521.7 290.4,521.5 290.1,521.3 289.8,521.1 289.5,520.9 289.2,520.7 288.9,520.6 288.6,520.4 288.3,520.3 288.0,520.2 287.7,520.1 287.4,520.0 287.1,520.0 281.6,523.2 281.9,523.2 282.2,523.3 282.5,523.4 282.7,523.5 283.0,523.6 283.3,523.7 283.6,523.9 283.9,524.1 284.2,524.2 284.5,524.4 284.8,524.7 285.1,524.9 285.4,525.1 285.7,525.4 286.0,525.6 286.3,525.9 286.6,526.2 286.9,526.5 287.1,526.8 287.4,527.1 287.7,527.5 287.9,527.8 288.2,528.1 288.4,528.5 288.6,528.9 288.8,529.2 289.0,529.6 289.2,530.0" fill="#4FAEFA" />
<polygon points="269.5,541.4 269.3,541.0 269.1,540.6 268.9,540.3 268.6,539.9 268.4,539.5 268.2,539.2 267.9,538.9 267.7,538.5 267.4,538.2 267.1,537.9 266.8,537.6 266.6,537.3 266.3,537.0 266.0,536.8 265.7,536.5 265.4,536.3 265.1,536.1 264.8,535.8 264.5,535.6 264.2,535.5 263.9,535.3 263.6,535.1 263.3,535.0 263.0,534.9 262.7,534.8 262.4,534.7 262.1,534.6 261.8,534.6 252.0,540.3 252.2,540.3 252.5,540.4 252.8,540.5 253.1,540.6 253.4,540.7 253.7,540.8 254.0,541.0 254.3,541.2 254.6,541.3 254.9,541.5 255.2,541.8 255.5,542.0 255.8,542.2 256.1,542.5 256.4,542.7 256.7,543.0 257.0,543.3 257.2,543.6 257.5,543.9 257.8,544.2 258.0,544.6 258.3,544.9 258.5,545.2 258.8,545.6 259.0,546.0 259.2,546.3 259.4,546.7 259.6,547.1" fill="#4FAEFA" />
<polygon points="248.3,547.5 248.5,545.6 249.4,540.7 250.0,540.4 255.1,539.0 257.1,538.8 259.1,539.0 260.9,539.6 262.6,540.7 264.0,542.1 265.0,543.7 265.7,545.6 265.9,547.5 265.7,549.5 265.0,551.4 264.0,553.0 262.6,554.4 259.7,557.2 259.2,557.6 253.3,555.5 251.6,554.4 250.2,553.0 249.2,551.4 248.5,549.5" fill="#2F97F0" />
<polygon points="254.7,550.7 252.0,552.3 248.4,559.4 248.4,567.4 254.7,563.7" fill="#E9E9EB" />
<polygon points="253.9,552.1 252.0,553.2 249.4,558.4 253.9,555.8" fill="#27323d" />
<polygon points="250.4,556.0 251.0,556.3 251.0,560.4 250.4,560.1" fill="#2a2a2a" />
<polygon points="251.0,556.3 252.0,555.8 252.0,559.9 251.0,560.4" fill="#333" />
<polygon points="251.4,555.4 252.0,555.8 251.0,556.3 250.4,556.0" fill="#3a3a3a" />
<polygon points="241.3,543.0 254.7,550.7 252.0,552.3 238.5,544.6" fill="#F7F7F9" />
<polygon points="240.5,544.4 244.5,546.7 244.5,547.5 240.5,545.3" fill="#E88E1C" />
<polygon points="244.5,546.7 246.2,545.7 246.2,546.5 244.5,547.5" fill="#D97F12" />
<polygon points="242.3,543.4 246.2,545.7 244.5,546.7 240.5,544.4" fill="#F7A531" />
<polygon points="246.0,547.6 250.0,549.9 250.0,550.7 246.0,548.5" fill="#E88E1C" />
<polygon points="250.0,549.9 251.8,548.9 251.8,549.7 250.0,550.7" fill="#D97F12" />
<polygon points="247.8,546.6 251.8,548.9 250.0,549.9 246.0,547.6" fill="#F7A531" />
<polygon points="238.5,544.6 252.0,552.3 248.4,559.4 235.0,551.7" fill="#2b3947" />
<polygon points="238.5,544.6 239.1,544.9 235.6,552.0 235.0,551.7" fill="#E9E9EB" />
<polygon points="251.4,552.0 252.0,552.3 248.4,559.4 247.8,559.1" fill="#F4F4F6" />
<polygon points="227.1,559.6 242.1,568.3 242.1,572.4 227.1,563.7" fill="#DEDEE2" />
<polygon points="242.1,568.3 249.2,564.2 249.2,568.3 242.1,572.4" fill="#D9D9DD" />
<polygon points="234.2,555.5 249.2,564.2 242.1,568.3 227.1,559.6" fill="#EFEFF1" />
<polygon points="242.9,572.6 242.9,572.2 243.0,571.7 243.1,571.2 243.2,570.8 243.4,570.3 243.6,569.8 243.8,569.4 244.1,569.0 244.4,568.5 244.7,568.2 245.0,567.8 245.4,567.5 245.8,567.2 246.1,567.0 246.5,566.8 246.8,566.7 247.2,566.6 247.5,566.5 247.8,566.6 248.1,566.6 248.4,566.7 248.6,566.9 248.9,567.1 249.0,567.4 249.2,567.7 249.3,568.1 249.3,568.4 249.4,568.8" fill="#3b3b3b" />
<polygon points="243.5,572.3 243.6,571.5 243.9,570.6 244.3,569.7 244.8,569.0 245.4,568.3 246.1,567.8 246.8,567.5 247.4,567.4 248.0,567.6 248.4,568.0 248.6,568.6 248.7,569.3 248.6,570.1 248.4,571.0 248.0,571.9 247.4,572.7 246.8,573.3 246.1,573.8 245.4,574.1 244.8,574.2 244.3,574.0 243.9,573.6 243.6,573.0" fill="#2e2e2e" />
<polygon points="244.6,571.7 244.7,571.2 244.8,570.7 245.0,570.2 245.4,569.7 245.7,569.3 246.1,569.1 246.5,568.9 246.9,568.9 247.2,569.0 247.4,569.2 247.6,569.5 247.6,569.9 247.6,570.4 247.4,570.9 247.2,571.4 246.9,571.9 246.5,572.3 246.1,572.5 245.7,572.7 245.4,572.8 245.0,572.7 244.8,572.4 244.7,572.1" fill="#EDEDED" />
<polygon points="245.5,571.2 245.5,571.0 245.5,570.8 245.7,570.5 245.8,570.3 245.9,570.2 246.1,570.1 246.3,570.0 246.4,570.0 246.6,570.0 246.7,570.1 246.7,570.2 246.8,570.4 246.7,570.6 246.7,570.9 246.6,571.1 246.4,571.3 246.3,571.4 246.1,571.6 245.9,571.6 245.8,571.6 245.7,571.6 245.5,571.5 245.5,571.4" fill="#8f8f8f" />
<polygon points="246.8,558.5 239.7,564.0 239.7,566.9 246.8,562.8" fill="#E2E2E6" />
<polygon points="229.4,558.0 239.7,564.0 239.7,570.1 229.4,564.2" fill="#F0F0F2" />
<polygon points="236.6,552.6 246.8,558.5 239.7,564.0 229.4,558.0" fill="#FBFBFD" />
<polygon points="231.0,559.7 238.1,563.8 238.1,568.3 231.0,564.2" fill="#141414" />
<polygon points="227.6,560.7 229.2,561.6 229.2,563.4 227.6,562.5" fill="#ffffff" />
<polygon points="239.9,567.7 241.5,568.7 241.5,570.5 239.9,569.6" fill="#ffffff" />
<polygon points="225.3,562.9 241.1,572.1 241.1,575.0 225.3,565.9" fill="#ADA8BA" />
<polygon points="241.1,572.1 242.5,571.3 242.5,574.2 241.1,575.0" fill="#9893A6" />
<polygon points="226.7,562.1 242.5,571.3 241.1,572.1 225.3,562.9" fill="#C9C5D2" />
<polygon points="214.7,581.8 229.0,590.0 229.0,599.1 214.7,590.9" fill="#DADADA" />
<polygon points="229.0,590.0 232.5,587.9 232.5,597.1 229.0,599.1" fill="#CFCFCF" />
<polygon points="218.3,579.7 232.5,587.9 229.0,590.0 214.7,581.8" fill="#EDEDED" />
<polygon points="169.3,616.7 181.2,623.5 181.2,625.8 169.3,618.9" fill="#444" />
<polygon points="181.2,623.5 228.6,596.1 228.6,598.4 181.2,625.8" fill="#4d4d4d" />
<polygon points="216.7,589.3 228.6,596.1 181.2,623.5 169.3,616.7" fill="#555" />
<polygon points="208.0,605.7 210.4,607.1 210.4,609.8 208.0,608.5" fill="#CFCFCF" />
<polygon points="210.4,607.1 216.7,603.4 216.7,606.2 210.4,609.8" fill="#D9D9D9" />
<polygon points="214.3,602.1 216.7,603.4 210.4,607.1 208.0,605.7" fill="#E8E8E8" />
<polygon points="222.4,601.7 222.5,600.9 222.7,600.1 223.1,599.2 223.7,598.5 224.3,597.8 224.9,597.3 225.6,597.1 226.2,597.0 226.7,597.2 228.7,598.3 229.1,598.7 229.3,599.2 229.4,599.9 229.3,600.7 229.1,601.6 228.7,602.4 228.2,603.2 227.6,603.8 226.9,604.3 226.2,604.6 225.6,604.6 225.1,604.5 223.1,603.4 222.7,603.0 222.5,602.4" fill="#1f1f1f" />
<polygon points="224.4,602.9 224.5,602.0 224.7,601.2 225.1,600.4 225.6,599.6 226.2,599.0 226.9,598.5 227.6,598.2 228.2,598.1 228.7,598.3 229.1,598.7 229.3,599.2 229.4,599.9 229.3,600.7 229.1,601.6 228.7,602.4 228.2,603.2 227.6,603.8 226.9,604.3 226.2,604.6 225.6,604.6 225.1,604.5 224.7,604.1 224.5,603.6" fill="#2e2e2e" />
<polygon points="225.4,602.2 225.5,601.8 225.6,601.3 225.9,600.8 226.2,600.3 226.5,600.0 226.9,599.7 227.3,599.5 227.6,599.5 227.9,599.6 228.2,599.8 228.3,600.1 228.4,600.5 228.3,601.0 228.2,601.5 227.9,602.0 227.6,602.4 227.3,602.8 226.9,603.1 226.5,603.2 226.2,603.3 225.9,603.2 225.6,603.0 225.5,602.6" fill="#EDEDED" />
<polygon points="226.3,601.8 226.3,601.6 226.4,601.3 226.5,601.1 226.6,600.9 226.7,600.8 226.9,600.7 227.1,600.6 227.2,600.6 227.3,600.6 227.4,600.7 227.5,600.9 227.5,601.0 227.5,601.2 227.4,601.4 227.3,601.6 227.2,601.8 227.1,602.0 226.9,602.1 226.7,602.2 226.6,602.2 226.5,602.2 226.4,602.1 226.3,601.9" fill="#8f8f8f" />
<polygon points="215.1,606.0 215.1,605.1 215.4,604.3 215.8,603.5 216.3,602.7 216.9,602.0 217.6,601.6 218.2,601.3 218.8,601.2 219.4,601.4 221.3,602.5 221.7,602.9 222.0,603.5 222.1,604.2 222.0,605.0 221.7,605.8 221.3,606.7 220.8,607.4 220.2,608.1 219.6,608.5 218.9,608.8 218.3,608.9 217.8,608.7 215.8,607.6 215.4,607.2 215.1,606.7" fill="#1f1f1f" />
<polygon points="217.0,607.1 217.1,606.3 217.4,605.4 217.8,604.6 218.3,603.8 218.9,603.2 219.6,602.7 220.2,602.4 220.8,602.4 221.3,602.5 221.7,602.9 222.0,603.5 222.1,604.2 222.0,605.0 221.7,605.8 221.3,606.7 220.8,607.4 220.2,608.1 219.6,608.6 218.9,608.8 218.3,608.9 217.8,608.7 217.4,608.4 217.1,607.8" fill="#2e2e2e" />
<polygon points="218.1,606.5 218.1,606.0 218.3,605.5 218.5,605.0 218.8,604.6 219.2,604.2 219.6,603.9 219.9,603.8 220.3,603.7 220.6,603.8 220.8,604.1 221.0,604.4 221.0,604.8 221.0,605.3 220.8,605.7 220.6,606.2 220.3,606.7 219.9,607.0 219.6,607.3 219.2,607.5 218.8,607.5 218.5,607.4 218.3,607.2 218.1,606.9" fill="#EDEDED" />
<polygon points="218.9,606.0 218.9,605.8 219.0,605.6 219.1,605.4 219.2,605.2 219.4,605.0 219.6,604.9 219.7,604.8 219.9,604.8 220.0,604.9 220.1,605.0 220.2,605.1 220.2,605.3 220.2,605.5 220.1,605.7 220.0,605.9 219.9,606.1 219.7,606.2 219.6,606.4 219.4,606.4 219.2,606.4 219.1,606.4 219.0,606.3 218.9,606.2" fill="#8f8f8f" />
<polygon points="190.5,620.1 190.6,619.3 190.8,618.4 191.3,617.5 191.8,616.7 192.5,616.0 193.2,615.5 193.9,615.2 194.5,615.1 195.1,615.3 197.1,616.4 197.5,616.8 197.7,617.4 197.8,618.2 197.7,619.0 197.5,619.9 197.1,620.8 196.5,621.6 195.8,622.3 195.2,622.8 194.4,623.1 193.8,623.2 193.2,623.0 191.3,621.9 190.8,621.5 190.6,620.9" fill="#1f1f1f" />
<polygon points="192.5,621.3 192.6,620.4 192.8,619.5 193.2,618.6 193.8,617.8 194.5,617.1 195.1,616.6 195.8,616.3 196.5,616.3 197.0,616.4 197.5,616.8 197.7,617.4 197.8,618.2 197.7,619.0 197.5,619.9 197.0,620.8 196.5,621.6 195.8,622.3 195.1,622.8 194.5,623.1 193.8,623.2 193.2,623.0 192.8,622.6 192.6,622.0" fill="#2e2e2e" />
<polygon points="193.6,620.6 193.6,620.1 193.8,619.6 194.0,619.1 194.4,618.6 194.7,618.2 195.1,617.9 195.6,617.8 195.9,617.7 196.2,617.8 196.5,618.0 196.7,618.4 196.7,618.8 196.7,619.3 196.5,619.8 196.2,620.4 195.9,620.8 195.6,621.2 195.1,621.5 194.7,621.7 194.4,621.7 194.0,621.6 193.8,621.4 193.6,621.1" fill="#EDEDED" />
<polygon points="194.5,620.1 194.5,619.9 194.6,619.7 194.7,619.4 194.8,619.2 195.0,619.1 195.1,618.9 195.3,618.9 195.5,618.9 195.6,618.9 195.7,619.0 195.8,619.1 195.8,619.3 195.8,619.5 195.7,619.8 195.6,620.0 195.5,620.2 195.3,620.4 195.1,620.5 195.0,620.6 194.8,620.6 194.7,620.5 194.6,620.4 194.5,620.3" fill="#8f8f8f" />
<polygon points="191.4,621.9 191.5,620.9 191.8,619.8 192.2,618.7 192.8,617.7 193.5,616.8 194.3,616.0 195.1,615.4 196.0,615.0 196.8,614.9 197.5,615.0 198.1,615.3 198.5,615.9 198.8,616.6 198.9,617.6 198.1,618.0 198.1,617.3 197.9,616.7 197.5,616.2 197.0,615.9 196.5,615.8 195.8,616.0 195.1,616.3 194.5,616.7 193.8,617.4 193.3,618.1 192.8,618.9 192.4,619.8 192.2,620.6 192.1,621.5" fill="#E4E4E4" />
<polygon points="177.4,605.1 177.6,603.5 178.1,602.1 178.9,601.0 214.1,580.8 215.2,580.1 216.5,579.9 217.9,580.2 219.5,580.9 221.0,582.0 222.5,583.4 223.8,585.1 224.9,587.0 225.7,589.0 226.2,591.0 226.4,592.8 226.2,594.5 225.7,595.9 224.9,597.0 188.6,617.9 187.3,618.1 185.9,617.8 184.3,617.1 182.8,616.0 181.3,614.6 180.0,612.9 178.9,611.0 178.1,609.0 177.6,607.0" fill="#2F97F0" />
<polygon points="224.4,597.3 224.5,597.2 224.7,597.1 224.8,597.0 225.0,596.9 225.1,596.7 225.3,596.6 225.4,596.4 225.5,596.2 225.6,596.1 225.7,595.9 225.8,595.7 225.9,595.5 226.0,595.3 226.1,595.1 226.1,594.8 226.2,594.6 226.2,594.4 226.3,594.1 226.3,593.9 226.4,593.6 226.4,593.4 226.4,593.1 226.4,592.8 226.4,592.5 226.4,592.3 226.3,592.0 226.3,591.7 226.3,591.4 191.1,611.7 191.2,612.0 191.2,612.3 191.2,612.6 191.2,612.8 191.2,613.1 191.2,613.4 191.2,613.6 191.2,613.9 191.2,614.2 191.1,614.4 191.1,614.7 191.0,614.9 191.0,615.1 190.9,615.3 190.8,615.6 190.8,615.8 190.7,616.0 190.6,616.2 190.5,616.4 190.4,616.5 190.2,616.7 190.1,616.9 190.0,617.0 189.8,617.1 189.7,617.3 189.5,617.4 189.4,617.5 189.2,617.6" fill="#2585DA" />
<polygon points="220.7,597.6 220.8,596.9 220.9,596.2 220.8,595.5 220.8,594.7 220.6,593.9 220.5,593.1 220.2,592.3 219.9,591.5 219.6,590.7 219.2,589.9 218.8,589.1 218.3,588.4 217.8,587.6 217.2,586.9 216.7,586.3 216.1,585.7 215.5,585.1 214.8,584.7 214.2,584.2 213.6,583.9 213.0,583.6 212.3,583.4 211.7,583.2 211.1,583.1 210.6,583.1 210.0,583.2 209.5,583.4 209.1,583.6 189.3,595.0 189.8,594.8 190.3,594.6 190.8,594.5 191.4,594.5 192.0,594.6 192.6,594.8 193.2,595.0 193.8,595.3 194.5,595.6 195.1,596.1 195.7,596.5 196.3,597.1 196.9,597.7 197.5,598.3 198.0,599.0 198.5,599.8 199.0,600.5 199.5,601.3 199.8,602.1 200.2,602.9 200.5,603.7 200.7,604.5 200.9,605.3 201.0,606.1 201.1,606.9 201.1,607.6 201.1,608.3 201.0,609.0" fill="#DCE9F5" />
<polygon points="220.0,591.8 219.8,591.2 219.6,590.6 219.3,590.1 219.0,589.5 218.6,588.9 218.3,588.4 217.9,587.8 217.5,587.3 217.1,586.8 216.7,586.4 216.3,585.9 215.9,585.5 215.4,585.1 215.0,584.7 214.5,584.4 214.0,584.1 213.6,583.9 213.1,583.6 212.7,583.5 212.2,583.3 211.8,583.2 211.3,583.1 210.9,583.1 210.5,583.1 210.1,583.2 209.8,583.3 209.4,583.4 209.1,583.6 189.3,595.0 189.7,594.8 190.0,594.7 190.4,594.6 190.8,594.5 191.2,594.5 191.6,594.5 192.0,594.6 192.5,594.7 192.9,594.9 193.4,595.0 193.8,595.3 194.3,595.5 194.8,595.8 195.2,596.1 195.7,596.5 196.1,596.9 196.6,597.3 197.0,597.8 197.4,598.2 197.8,598.7 198.2,599.2 198.6,599.8 198.9,600.3 199.2,600.9 199.5,601.5 199.8,602.0 200.1,602.6 200.3,603.2" fill="#F4F8FC" />
<polygon points="217.2,586.9 217.0,586.7 216.9,586.5 216.7,586.4 216.6,586.2 216.4,586.0 216.3,585.9 216.1,585.7 216.0,585.6 215.8,585.5 215.7,585.3 215.5,585.2 215.3,585.0 215.2,584.9 215.0,584.8 214.9,584.7 214.7,584.5 214.5,584.4 214.4,584.3 214.2,584.2 214.0,584.1 213.9,584.0 213.7,583.9 213.6,583.9 213.4,583.8 213.2,583.7 213.1,583.6 212.9,583.6 212.7,583.5 193.0,594.9 193.2,595.0 193.3,595.0 193.5,595.1 193.6,595.2 193.8,595.3 194.0,595.3 194.1,595.4 194.3,595.5 194.5,595.6 194.6,595.7 194.8,595.8 195.0,595.9 195.1,596.1 195.3,596.2 195.4,596.3 195.6,596.4 195.8,596.6 195.9,596.7 196.1,596.9 196.2,597.0 196.4,597.1 196.5,597.3 196.7,597.4 196.9,597.6 197.0,597.8 197.2,597.9 197.3,598.1 197.4,598.3" fill="#FFFFFF" />
<polygon points="218.8,600.5 218.9,600.4 219.0,600.4 219.1,600.3 219.2,600.2 219.3,600.2 219.4,600.1 219.5,600.0 219.6,599.9 219.6,599.8 219.7,599.8 219.8,599.7 219.9,599.6 220.0,599.5 220.0,599.4 220.1,599.3 220.1,599.1 220.2,599.0 220.3,598.9 220.3,598.8 220.4,598.7 220.4,598.5 220.5,598.4 220.5,598.3 220.6,598.2 220.6,598.0 220.6,597.9 220.7,597.7 220.7,597.6 201.0,609.0 200.9,609.1 200.9,609.3 200.9,609.4 200.8,609.6 200.8,609.7 200.7,609.8 200.7,609.9 200.6,610.1 200.6,610.2 200.5,610.3 200.5,610.4 200.4,610.5 200.3,610.7 200.3,610.8 200.2,610.9 200.1,611.0 200.1,611.1 200.0,611.2 199.9,611.2 199.8,611.3 199.7,611.4 199.7,611.5 199.6,611.6 199.5,611.6 199.4,611.7 199.3,611.8 199.2,611.8 199.1,611.9" fill="#2585DA" />
<polygon points="224.8,586.8 224.6,586.4 224.4,586.0 224.1,585.7 223.9,585.3 223.7,584.9 223.4,584.6 223.2,584.3 222.9,583.9 222.7,583.6 222.4,583.3 222.1,583.0 221.8,582.7 221.6,582.4 221.3,582.2 221.0,581.9 220.7,581.7 220.4,581.5 220.1,581.3 219.8,581.1 219.5,580.9 219.2,580.7 218.9,580.6 218.6,580.4 218.3,580.3 218.0,580.2 217.7,580.1 217.4,580.0 217.1,580.0 211.6,583.2 211.9,583.2 212.2,583.3 212.5,583.4 212.7,583.5 213.0,583.6 213.3,583.7 213.6,583.9 213.9,584.1 214.2,584.2 214.5,584.4 214.8,584.7 215.1,584.9 215.4,585.1 215.7,585.4 216.0,585.6 216.3,585.9 216.6,586.2 216.9,586.5 217.1,586.8 217.4,587.1 217.7,587.5 217.9,587.8 218.2,588.1 218.4,588.5 218.6,588.9 218.8,589.2 219.0,589.6 219.2,590.0" fill="#4FAEFA" />
<polygon points="199.5,601.4 199.3,601.0 199.1,600.6 198.9,600.3 198.6,599.9 198.4,599.5 198.2,599.2 197.9,598.9 197.7,598.5 197.4,598.2 197.1,597.9 196.8,597.6 196.6,597.3 196.3,597.0 196.0,596.8 195.7,596.5 195.4,596.3 195.1,596.1 194.8,595.8 194.5,595.6 194.2,595.5 193.9,595.3 193.6,595.1 193.3,595.0 193.0,594.9 192.7,594.8 192.4,594.7 192.1,594.6 191.8,594.6 182.0,600.3 182.2,600.3 182.5,600.4 182.8,600.5 183.1,600.6 183.4,600.7 183.7,600.8 184.0,601.0 184.3,601.2 184.6,601.3 184.9,601.5 185.2,601.8 185.5,602.0 185.8,602.2 186.1,602.5 186.4,602.7 186.7,603.0 187.0,603.3 187.2,603.6 187.5,603.9 187.8,604.2 188.0,604.6 188.3,604.9 188.5,605.2 188.8,605.6 189.0,606.0 189.2,606.3 189.4,606.7 189.6,607.1" fill="#4FAEFA" />
<polygon points="178.3,607.5 178.5,605.6 179.4,600.7 180.0,600.4 185.1,599.0 187.1,598.8 189.1,599.0 190.9,599.6 192.6,600.7 194.0,602.1 195.0,603.7 195.7,605.6 195.9,607.5 195.7,609.5 195.0,611.4 194.0,613.0 192.6,614.4 189.7,617.2 189.2,617.6 183.3,615.5 181.6,614.4 180.2,613.0 179.2,611.4 178.5,609.5" fill="#2F97F0" />
<polygon points="184.7,610.7 182.0,612.3 178.4,619.4 178.4,627.4 184.7,623.7" fill="#E9E9EB" />
<polygon points="183.9,612.1 182.0,613.2 179.4,618.4 183.9,615.8" fill="#27323d" />
<polygon points="180.4,616.0 181.0,616.3 181.0,620.4 180.4,620.1" fill="#2a2a2a" />
<polygon points="181.0,616.3 182.0,615.8 182.0,619.9 181.0,620.4" fill="#333" />
<polygon points="181.4,615.4 182.0,615.8 181.0,616.3 180.4,616.0" fill="#3a3a3a" />
<polygon points="171.3,603.0 184.7,610.7 182.0,612.3 168.5,604.6" fill="#F7F7F9" />
<polygon points="170.5,604.4 174.5,606.7 174.5,607.5 170.5,605.3" fill="#E88E1C" />
<polygon points="174.5,606.7 176.2,605.7 176.2,606.5 174.5,607.5" fill="#D97F12" />
<polygon points="172.3,603.4 176.2,605.7 174.5,606.7 170.5,604.4" fill="#F7A531" />
<polygon points="176.0,607.6 180.0,609.9 180.0,610.7 176.0,608.5" fill="#E88E1C" />
<polygon points="180.0,609.9 181.8,608.9 181.8,609.7 180.0,610.7" fill="#D97F12" />
<polygon points="177.8,606.6 181.8,608.9 180.0,609.9 176.0,607.6" fill="#F7A531" />
<polygon points="168.5,604.6 182.0,612.3 178.4,619.4 165.0,611.7" fill="#2b3947" />
<polygon points="168.5,604.6 169.1,604.9 165.6,612.0 165.0,611.7" fill="#E9E9EB" />
<polygon points="181.4,612.0 182.0,612.3 178.4,619.4 177.8,619.1" fill="#F4F4F6" />
<polygon points="157.1,619.6 172.1,628.3 172.1,632.4 157.1,623.7" fill="#DEDEE2" />
<polygon points="172.1,628.3 179.2,624.2 179.2,628.3 172.1,632.4" fill="#D9D9DD" />
<polygon points="164.2,615.5 179.2,624.2 172.1,628.3 157.1,619.6" fill="#EFEFF1" />
<polygon points="172.9,632.6 172.9,632.2 173.0,631.7 173.1,631.2 173.2,630.8 173.4,630.3 173.6,629.8 173.8,629.4 174.1,629.0 174.4,628.5 174.7,628.2 175.0,627.8 175.4,627.5 175.8,627.2 176.1,627.0 176.5,626.8 176.8,626.7 177.2,626.6 177.5,626.5 177.8,626.6 178.1,626.6 178.4,626.7 178.6,626.9 178.9,627.1 179.0,627.4 179.2,627.7 179.3,628.1 179.3,628.4 179.4,628.8" fill="#3b3b3b" />
<polygon points="173.5,632.3 173.6,631.5 173.9,630.6 174.3,629.7 174.8,629.0 175.4,628.3 176.1,627.8 176.8,627.5 177.4,627.4 178.0,627.6 178.4,628.0 178.6,628.6 178.7,629.3 178.6,630.1 178.4,631.0 178.0,631.9 177.4,632.7 176.8,633.3 176.1,633.8 175.4,634.1 174.8,634.2 174.3,634.0 173.9,633.6 173.6,633.0" fill="#2e2e2e" />
<polygon points="174.6,631.7 174.7,631.2 174.8,630.7 175.0,630.2 175.4,629.7 175.7,629.3 176.1,629.1 176.5,628.9 176.9,628.9 177.2,629.0 177.4,629.2 177.6,629.5 177.6,629.9 177.6,630.4 177.4,630.9 177.2,631.4 176.9,631.9 176.5,632.3 176.1,632.5 175.7,632.7 175.4,632.8 175.0,632.7 174.8,632.4 174.7,632.1" fill="#EDEDED" />
<polygon points="175.5,631.2 175.5,631.0 175.5,630.8 175.7,630.5 175.8,630.3 175.9,630.2 176.1,630.1 176.3,630.0 176.4,630.0 176.6,630.0 176.7,630.1 176.7,630.2 176.8,630.4 176.7,630.6 176.7,630.9 176.6,631.1 176.4,631.3 176.3,631.4 176.1,631.6 175.9,631.6 175.8,631.6 175.7,631.6 175.5,631.5 175.5,631.4" fill="#8f8f8f" />
<polygon points="176.8,618.5 169.7,624.0 169.7,626.9 176.8,622.8" fill="#E2E2E6" />
<polygon points="159.4,618.0 169.7,624.0 169.7,630.1 159.4,624.2" fill="#F0F0F2" />
<polygon points="166.6,612.6 176.8,618.5 169.7,624.0 159.4,618.0" fill="#FBFBFD" />
<polygon points="161.0,619.7 168.1,623.8 168.1,628.3 161.0,624.2" fill="#141414" />
<polygon points="157.6,620.7 159.2,621.6 159.2,623.4 157.6,622.5" fill="#ffffff" />
<polygon points="169.9,627.7 171.5,628.7 171.5,630.5 169.9,629.6" fill="#ffffff" />
<polygon points="155.3,622.9 171.1,632.1 171.1,635.0 155.3,625.9" fill="#ADA8BA" />
<polygon points="171.1,632.1 172.5,631.3 172.5,634.2 171.1,635.0" fill="#9893A6" />
<polygon points="156.7,622.1 172.5,631.3 171.1,632.1 155.3,622.9" fill="#C9C5D2" />
</g>
<polygon points="489.3,248.2 510.1,260.2 489.3,272.2 468.5,260.2" fill="#2F9BF5" />
<polygon points="504.2,264.4 590.0,311.6 583.0,316.6 497.3,268.2" fill="#2F9BF5" />
<polygon points="515.8,559.0 536.6,571.0 515.8,583.0 495.0,571.0" fill="#2F9BF5" />
<polygon points="520.8,561.1 700.0,459.5 707.0,464.3 531.0,566.0" fill="#2F9BF5" />
<g fill="#000"><path transform="translate(0,20)" d="M767.3,186.7 C782.6,177.9 807.4,177.9 822.7,186.7 L1032.8,308.0 C1074.9,332.3 1074.9,371.7 1032.8,396.0 L808.9,525.3 C801.2,529.7 788.8,529.7 781.1,525.3 L557.2,396.0 C515.1,371.7 515.1,332.3 557.2,308.0 Z"/>
<rect x="525.2" y="350" width="539.6" height="20"/></g>
<path d="M767.3,186.7 C782.6,177.9 807.4,177.9 822.7,186.7 L1032.8,308.0 C1074.9,332.3 1074.9,371.7 1032.8,396.0 L808.9,525.3 C801.2,529.7 788.8,529.7 781.1,525.3 L557.2,396.0 C515.1,371.7 515.1,332.3 557.2,308.0 Z" fill="#A1B5C0"/>
<polygon points="794.0,286.5 862.0,247.5 878.0,256.5 810.0,296.0" fill="#66737c" />
<polygon points="806.0,291.0 874.0,252.0 884.0,258.0 816.0,297.0" fill="rgba(70,95,120,0.28)" />
<polygon points="861.0,215.0 865.2,217.4 865.2,255.0 861.0,252.5" fill="#2F8FE6" />
<polygon points="865.2,217.4 867.6,216.0 867.6,253.5 865.2,255.0" fill="#1F77C8" />
<polygon points="860.6,263.8 851.5,269.0 859.5,270.5 868.6,265.2" fill="rgba(40,50,60,0.35)" />
<polygon points="842.4,238.8 851.5,244.0 851.5,269.0 842.4,263.8" fill="#F2EEE6" />
<polygon points="851.5,244.0 860.6,238.8 860.6,263.8 851.5,269.0" fill="#FBF9F5" />
<polygon points="851.5,233.5 860.6,238.8 851.5,244.0 842.4,238.8" fill="#FFFDF8" />
<polygon points="843.7,243.0 850.2,246.8 850.2,254.2 843.7,250.5" fill="#3f474d" />
<polygon points="843.7,253.5 850.2,257.2 850.2,258.8 843.7,255.0" fill="#3f474d" />
<polygon points="842.4,261.8 851.5,267.0 851.5,269.0 842.4,263.8" fill="#c9c3ba" />
<path d="M841.1,263.0 v-14 q0,-3 2,-3" stroke="#E9A7A0" stroke-width="1.6" fill="none"/>
<polygon points="834.1,279.8 825.0,285.0 833.0,286.5 842.1,281.2" fill="rgba(40,50,60,0.35)" />
<polygon points="815.9,254.8 825.0,260.0 825.0,285.0 815.9,279.8" fill="#F2EEE6" />
<polygon points="825.0,260.0 834.1,254.8 834.1,279.8 825.0,285.0" fill="#FBF9F5" />
<polygon points="825.0,249.5 834.1,254.8 825.0,260.0 815.9,254.8" fill="#FFFDF8" />
<polygon points="817.2,259.0 823.7,262.8 823.7,270.2 817.2,266.5" fill="#3f474d" />
<polygon points="817.2,269.5 823.7,273.2 823.7,274.8 817.2,271.0" fill="#3f474d" />
<polygon points="815.9,277.8 825.0,283.0 825.0,285.0 815.9,279.8" fill="#c9c3ba" />
<path d="M814.6,279.0 v-14 q0,-3 2,-3" stroke="#E9A7A0" stroke-width="1.6" fill="none"/>
<polygon points="846.0,229.5 855.5,224.0 855.5,236.5 846.0,242.0" fill="#2F8FE6" />
<g transform="translate(847.6 238.2) skewY(-30)"><text x="0" y="0" font-family="Liberation Sans" font-weight="bold" font-size="7" fill="#fff">H<tspan font-size="4" dy="1">2</tspan></text></g>
<polygon points="798.0,246.0 802.4,248.5 802.4,290.5 798.0,288.0" fill="#2F8FE6" />
<polygon points="802.4,248.5 804.8,247.1 804.8,289.0 802.4,290.5" fill="#1F77C8" />
<polygon points="786.3,236.9 812.4,252.2 812.4,255.4 786.3,240.1" fill="#2F8FE6" />
<polygon points="812.4,252.2 881.0,212.5 881.0,215.7 812.4,255.4" fill="#2380D8" />
<polygon points="854.9,197.2 881.0,212.5 812.4,252.2 786.3,236.9" fill="#FFFFFF" />
<polygon points="854.9,199.4 877.2,212.5 812.4,250.0 790.1,236.9" fill="#F1EFEC" />
<polygon points="882.8,277.2 887.2,279.8 849.0,301.8 829.6,290.5 831.3,289.5 846.4,298.2" fill="rgba(50,70,90,0.32)" />
<polygon points="831.3,279.9 846.4,288.6 846.4,296.6 831.3,287.9" fill="#DFE0E5" />
<polygon points="846.4,288.6 882.0,268.1 882.0,276.1 846.4,296.6" fill="#EBECF0" />
<polygon points="866.8,259.4 882.0,268.1 846.4,288.6 831.3,279.9" fill="#F6F6F8" />
<polygon points="879.0,268.9 879.0,261.4 857.7,273.7 853.4,283.7" fill="#EBECF0" />
<polygon points="878.0,268.9 878.0,263.0 858.0,274.6 854.7,282.4" fill="#47525c" />
<polygon points="871.8,273.1 871.8,265.6 870.9,266.1 870.9,273.6" fill="#EBECF0" />
<polygon points="865.0,277.0 865.0,269.5 864.1,270.0 864.1,277.5" fill="#EBECF0" />
<polygon points="844.1,265.9 857.7,273.7 853.4,283.7 839.8,275.9" fill="#DFE0E5" />
<polygon points="844.8,267.1 856.6,274.0 852.7,282.6 840.9,275.8" fill="#47525c" />
<polygon points="865.4,253.6 879.0,261.4 857.7,273.7 844.1,265.9" fill="#FFFFFF" />
<polygon points="833.0,282.9 844.7,289.7 844.7,292.9 833.0,286.1" fill="#c9cad0" />
<polygon points="871.8,280.3 871.9,279.3 872.2,278.3 872.7,277.3 873.3,276.4 874.1,275.6 874.9,275.0 875.6,274.7 876.4,274.6 877.0,274.8 877.5,275.3 877.8,275.9 877.9,276.8 877.8,277.7 877.5,278.8 877.0,279.8 876.4,280.7 875.6,281.5 874.9,282.0 874.1,282.4 873.3,282.4 872.7,282.2 872.2,281.8 871.9,281.1" fill="#3a3a3a" />
<polygon points="873.1,279.5 873.2,279.0 873.3,278.4 873.6,277.8 874.0,277.3 874.4,276.8 874.9,276.5 875.3,276.3 875.7,276.3 876.1,276.4 876.4,276.6 876.6,277.0 876.6,277.5 876.6,278.1 876.4,278.7 876.1,279.2 875.7,279.8 875.3,280.2 874.9,280.6 874.4,280.7 874.0,280.8 873.6,280.7 873.3,280.4 873.2,280.0" fill="#d9d9d9" />
<polygon points="874.1,279.0 874.1,278.7 874.2,278.5 874.3,278.2 874.5,278.0 874.7,277.8 874.9,277.7 875.1,277.6 875.2,277.5 875.4,277.6 875.5,277.7 875.6,277.9 875.6,278.1 875.6,278.3 875.5,278.6 875.4,278.8 875.2,279.1 875.1,279.3 874.9,279.4 874.7,279.5 874.5,279.5 874.3,279.5 874.2,279.3 874.1,279.2" fill="#8f8f8f" />
<polygon points="850.5,292.6 850.6,291.6 850.9,290.6 851.4,289.6 852.0,288.7 852.8,287.9 853.5,287.3 854.3,287.0 855.1,286.9 855.7,287.1 856.2,287.6 856.5,288.2 856.6,289.1 856.5,290.0 856.2,291.1 855.7,292.1 855.1,293.0 854.3,293.8 853.5,294.3 852.8,294.7 852.0,294.7 851.4,294.5 850.9,294.1 850.6,293.4" fill="#3a3a3a" />
<polygon points="851.8,291.8 851.9,291.3 852.0,290.7 852.3,290.1 852.7,289.6 853.1,289.1 853.5,288.8 854.0,288.6 854.4,288.6 854.8,288.7 855.1,288.9 855.2,289.3 855.3,289.8 855.2,290.4 855.1,291.0 854.8,291.5 854.4,292.1 854.0,292.5 853.5,292.9 853.1,293.0 852.7,293.1 852.3,293.0 852.0,292.7 851.9,292.3" fill="#d9d9d9" />
<polygon points="852.8,291.3 852.8,291.0 852.9,290.8 853.0,290.5 853.2,290.3 853.4,290.1 853.5,289.9 853.7,289.9 853.9,289.8 854.1,289.9 854.2,290.0 854.3,290.2 854.3,290.4 854.3,290.6 854.2,290.9 854.1,291.1 853.9,291.4 853.7,291.6 853.5,291.7 853.4,291.8 853.2,291.8 853.0,291.8 852.9,291.6 852.8,291.5" fill="#8f8f8f" />
<g transform="translate(863.5 268.5) skewY(-30)"><text x="0" y="0" font-family="Liberation Sans" font-weight="bold" font-size="6.5" fill="#2F8FE6">H<tspan font-size="3.8" dy="1">2</tspan></text></g>
<polyline points="655.0,345.4 804.0,267.1" fill="none" stroke="rgba(70,95,120,0.28)" stroke-width="6.00" stroke-linecap="round" stroke-linejoin="round"/>
<line x1="652.0" y1="334.2" x2="801.0" y2="255.9" stroke="#D6B499" stroke-width="6.60" stroke-linecap="round"/>
<line x1="652.0" y1="333.4" x2="801.0" y2="255.1" stroke="#EACFB8" stroke-width="4.75" stroke-linecap="round"/>
<line x1="652.0" y1="332.6" x2="801.0" y2="254.2" stroke="#F6E4D3" stroke-width="1.98" stroke-linecap="round"/>
<line x1="652.0" y1="341.1" x2="801.0" y2="262.8" stroke="#D6B499" stroke-width="6.60" stroke-linecap="round"/>
<line x1="652.0" y1="340.3" x2="801.0" y2="262.0" stroke="#EACFB8" stroke-width="4.75" stroke-linecap="round"/>
<line x1="652.0" y1="339.4" x2="801.0" y2="261.2" stroke="#F6E4D3" stroke-width="1.98" stroke-linecap="round"/>
<path d="M663.9,339.4 v-3.5 M662.4,340.0 l3,-1.6" stroke="#8a3f30" stroke-width="1.1" fill="none"/>
<path d="M744.4,297.2 v-3.5 M742.9,297.8 l3,-1.6" stroke="#8a3f30" stroke-width="1.1" fill="none"/>
<path d="M771.2,283.1 v-3.5 M769.7,283.7 l3,-1.6" stroke="#8a3f30" stroke-width="1.1" fill="none"/>
<polygon points="596.0,366.0 640.0,340.0 648.0,346.0 604.0,371.0" fill="rgba(70,95,120,0.28)" />
<path d="M584.5,367 V347 q0,-4 4,-5" stroke="#7E9FE6" stroke-width="1.6" fill="none"/>
<polygon points="586.5,345.0 604.5,345.0 599.5,364.0 591.0,364.0" fill="#D9D2CA" />
<polygon points="588.5,352.0 593.0,352.0 593.0,366.5 590.0,366.5" fill="#CFC7BE" />
<polygon points="597.0,352.0 601.5,352.0 600.5,366.0 598.0,366.0" fill="#BDB5AC" />
<path d="M585.2,347 V291 q0,-8 7,-11 V253.5 q0,-4 4.2,-4 q4.2,0 4.2,4 V280 q5.2,3 5.2,11 V347 q-10.3,5 -20.6,0 Z" fill="url(#towg)"/>
<path d="M581,294.5 q14.5,12 30,1 v4.5 q-15.5,11 -30,-1 Z" fill="#6b5446"/>
<path d="M581,291.0 q14.5,12 30,1" stroke="#3d3029" stroke-width="1" fill="none"/>
<path d="M608.5,294.0 q4.5,-4 1,-9" stroke="#2e2a28" stroke-width="2.2" fill="none"/>
<path d="M582.5,293.5 q-3,-5 1.5,-9" stroke="#5a4a40" stroke-width="1.5" fill="none"/>
<path d="M581,332.0 q14.5,12 30,1 v4.5 q-15.5,11 -30,-1 Z" fill="#6b5446"/>
<path d="M581,328.5 q14.5,12 30,1" stroke="#3d3029" stroke-width="1" fill="none"/>
<path d="M608.5,331.5 q4.5,-4 1,-9" stroke="#2e2a28" stroke-width="2.2" fill="none"/>
<path d="M582.5,331.0 q-3,-5 1.5,-9" stroke="#5a4a40" stroke-width="1.5" fill="none"/>
<path d="M601,272.5 q5.7,1.5 5.7,7 V356" stroke="#7E9FE6" stroke-width="1.8" fill="none"/>
<polygon points="999.2,320.4 933.4,358.4 947.4,361.4 1013.2,323.4" fill="rgba(70,95,120,0.28)" />
<polygon points="899.2,314.7 933.4,334.4 933.4,358.4 899.2,338.7" fill="#E9E7E4" />
<polygon points="933.4,334.4 999.2,296.4 999.2,320.4 933.4,358.4" fill="#F8F6F4" />
<polygon points="965.0,276.7 999.2,296.4 933.4,334.4 899.2,314.7" fill="#F4F0EB" />
<polyline points="899.2,314.7 965.0,276.7 999.2,296.4" fill="none" stroke="#3b3b3b" stroke-width="1.00" />
<polyline points="899.2,314.7 933.4,334.4 999.2,296.4" fill="none" stroke="#ffffff" stroke-width="1.20" />
<line x1="999.2" y1="314.4" x2="933.4" y2="352.4" stroke="#dddad6" stroke-width="0.70" />
<line x1="899.2" y1="332.7" x2="933.4" y2="352.4" stroke="#d4d1cd" stroke-width="0.70" />
<line x1="999.2" y1="308.4" x2="933.4" y2="346.4" stroke="#dddad6" stroke-width="0.70" />
<line x1="899.2" y1="326.7" x2="933.4" y2="346.4" stroke="#d4d1cd" stroke-width="0.70" />
<line x1="999.2" y1="302.4" x2="933.4" y2="340.4" stroke="#dddad6" stroke-width="0.70" />
<line x1="899.2" y1="320.7" x2="933.4" y2="340.4" stroke="#d4d1cd" stroke-width="0.70" />
<polyline points="899.2,338.7 933.4,358.4 999.2,320.4" fill="none" stroke="#5a5a5a" stroke-width="1.00" />
<polygon points="915.6,330.7 917.4,331.7 917.4,345.7 915.6,344.7" fill="#1F5E96" />
<polygon points="918.7,332.4 920.4,333.4 920.4,347.4 918.7,346.4" fill="#1F5E96" />
<polygon points="921.7,334.2 923.4,335.2 923.4,349.2 921.7,348.2" fill="#1F5E96" />
<polygon points="924.7,335.9 926.5,336.9 926.5,350.9 924.7,349.9" fill="#1F5E96" />
<polygon points="927.8,337.7 929.5,338.7 929.5,352.7 927.8,351.7" fill="#1F5E96" />
<polygon points="939.5,337.4 937.7,338.4 937.7,352.4 939.5,351.4" fill="#1F5E96" />
<polygon points="942.5,335.7 940.8,336.7 940.8,350.7 942.5,349.7" fill="#1F5E96" />
<polygon points="945.5,333.9 943.8,334.9 943.8,348.9 945.5,347.9" fill="#1F5E96" />
<polygon points="948.5,332.2 946.8,333.2 946.8,347.2 948.5,346.2" fill="#1F5E96" />
<polygon points="951.6,330.4 949.8,331.4 949.8,345.4 951.6,344.4" fill="#1F5E96" />
<polygon points="971.5,325.4 968.0,327.4 968.0,337.4 971.5,335.4" fill="#6d7072" />
<polygon points="991.4,313.9 987.9,315.9 987.9,325.9 991.4,323.9" fill="#6d7072" />
<polygon points="918.2,308.2 922.6,310.7 922.6,314.2 918.2,311.7" fill="#5a5a5a" />
<polygon points="922.6,310.7 927.8,307.7 927.8,311.2 922.6,314.2" fill="#a9a9a9" />
<polygon points="923.4,305.2 927.8,307.7 922.6,310.7 918.2,308.2" fill="#c9c9c9" />
<polygon points="930.4,309.2 934.7,311.7 934.7,315.2 930.4,312.7" fill="#5a5a5a" />
<polygon points="934.7,311.7 939.9,308.7 939.9,312.2 934.7,315.2" fill="#a9a9a9" />
<polygon points="935.6,306.2 939.9,308.7 934.7,311.7 930.4,309.2" fill="#c9c9c9" />
<line x1="937.5" y1="294.6" x2="966.7" y2="311.4" stroke="#3b3b3b" stroke-width="1.60" />
<line x1="966.7" y1="311.4" x2="995.0" y2="295.1" stroke="#3b3b3b" stroke-width="1.60" />
<polygon points="937.5,275.6 966.7,292.4 966.7,311.4 937.5,294.6" fill="#ECEAE7" />
<polygon points="966.7,292.4 995.0,276.1 995.0,295.1 966.7,311.4" fill="#F8F6F4" />
<polygon points="965.8,259.2 995.0,276.1 966.7,292.4 937.5,275.6" fill="#F4F0EB" />
<polyline points="937.5,275.6 965.8,259.2 995.0,276.1" fill="none" stroke="#3b3b3b" stroke-width="1.00" />
<polyline points="937.5,275.6 966.7,292.4 995.0,276.1" fill="none" stroke="#ffffff" stroke-width="1.20" />
<line x1="995.0" y1="290.1" x2="966.7" y2="306.4" stroke="#dddad6" stroke-width="0.70" />
<line x1="937.5" y1="289.6" x2="966.7" y2="306.4" stroke="#d4d1cd" stroke-width="0.70" />
<line x1="995.0" y1="285.1" x2="966.7" y2="301.4" stroke="#dddad6" stroke-width="0.70" />
<line x1="937.5" y1="284.6" x2="966.7" y2="301.4" stroke="#d4d1cd" stroke-width="0.70" />
<line x1="995.0" y1="280.1" x2="966.7" y2="296.4" stroke="#dddad6" stroke-width="0.70" />
<line x1="937.5" y1="279.6" x2="966.7" y2="296.4" stroke="#d4d1cd" stroke-width="0.70" />
<polygon points="948.7,292.1 952.2,294.1 952.2,302.6 948.7,300.6" fill="#6d7072" />
<path d="M715.1,348.1 L748.3,339.3 A24.6,13.6 0 0 0 737.2,322.3 Z" fill="rgba(70,95,120,0.28)"/>
<ellipse cx="726.2" cy="335.9" rx="24.6" ry="13.6" fill="rgba(70,95,120,0.28)" />
<path d="M690.5,303.5 L690.5,334.5 A24.6,13.6 0 0 0 739.7,334.5 L739.7,303.5 A24.6,13.6 0 0 1 690.5,303.5 Z" fill="url(#tankg)"/>
<path d="M690.5,326.5 L690.5,334.5 A24.6,13.6 0 0 0 739.7,334.5 L739.7,326.5 A24.6,13.6 0 0 1 690.5,326.5 Z" fill="url(#bandg)"/>
<line x1="699.8" y1="314.2" x2="699.8" y2="337.2" stroke="rgba(120,105,95,0.45)" stroke-width="0.80" />
<line x1="728.6" y1="314.9" x2="728.6" y2="337.9" stroke="rgba(120,105,95,0.45)" stroke-width="0.80" />
<line x1="736.3" y1="310.4" x2="736.3" y2="333.4" stroke="rgba(120,105,95,0.45)" stroke-width="0.80" />
<ellipse cx="715.1" cy="303.5" rx="24.6" ry="13.6" fill="#7d6d63" />
<ellipse cx="715.1" cy="303.5" rx="23.4" ry="12.7" fill="#FCF4EA" />
<ellipse cx="715.1" cy="304.1" rx="21.6" ry="11.4" fill="#FFF8F0" />
<g fill="#2E8EE6" transform="translate(708.27 339.70) skewY(0.0)"><text x="-1.38" y="0" font-family="Liberation Sans, sans-serif" font-weight="bold" font-size="20.6">H<tspan x="12.59" dy="1.7" font-size="11.3">2</tspan></text></g>
<path d="M765.3,366.2 L799.6,357.2 A25.4,13.8 0 0 0 788.2,340.0 Z" fill="rgba(70,95,120,0.28)"/>
<ellipse cx="776.7" cy="353.8" rx="25.4" ry="13.8" fill="rgba(70,95,120,0.28)" />
<path d="M739.9,314.4 L739.9,352.4 A25.4,13.8 0 0 0 790.7,352.4 L790.7,314.4 A25.4,13.8 0 0 1 739.9,314.4 Z" fill="url(#tankg)"/>
<path d="M739.9,343.9 L739.9,352.4 A25.4,13.8 0 0 0 790.7,352.4 L790.7,343.9 A25.4,13.8 0 0 1 739.9,343.9 Z" fill="url(#bandg)"/>
<line x1="749.6" y1="325.2" x2="749.6" y2="354.7" stroke="rgba(120,105,95,0.45)" stroke-width="0.80" />
<line x1="779.3" y1="325.9" x2="779.3" y2="355.4" stroke="rgba(120,105,95,0.45)" stroke-width="0.80" />
<line x1="787.1" y1="321.4" x2="787.1" y2="350.9" stroke="rgba(120,105,95,0.45)" stroke-width="0.80" />
<ellipse cx="765.3" cy="314.4" rx="25.4" ry="13.8" fill="#7d6d63" />
<ellipse cx="765.3" cy="314.4" rx="24.2" ry="12.9" fill="#FCF4EA" />
<ellipse cx="765.3" cy="315.0" rx="22.4" ry="11.6" fill="#FFF8F0" />
<g fill="#2E8EE6" transform="translate(757.31 351.50) skewY(0.0)"><text x="-1.42" y="0" font-family="Liberation Sans, sans-serif" font-weight="bold" font-size="21.2">H<tspan x="12.95" dy="1.75" font-size="11.7">2</tspan></text></g>
<path d="M721.4,385.9 L745.2,379.7 A17.6,9.6 0 0 0 737.2,367.7 Z" fill="rgba(70,95,120,0.28)"/>
<ellipse cx="729.3" cy="377.3" rx="17.6" ry="9.6" fill="rgba(70,95,120,0.28)" />
<path d="M703.8,351.3 L703.8,376.3 A17.6,9.6 0 0 0 739.0,376.3 L739.0,351.3 A17.6,9.6 0 0 1 703.8,351.3 Z" fill="url(#tankg)"/>
<path d="M703.8,370.3 L703.8,376.3 A17.6,9.6 0 0 0 739.0,376.3 L739.0,370.3 A17.6,9.6 0 0 1 703.8,370.3 Z" fill="url(#bandg)"/>
<line x1="710.5" y1="358.8" x2="710.5" y2="377.8" stroke="rgba(120,105,95,0.45)" stroke-width="0.80" />
<line x1="731.1" y1="359.3" x2="731.1" y2="378.3" stroke="rgba(120,105,95,0.45)" stroke-width="0.80" />
<line x1="736.5" y1="356.2" x2="736.5" y2="375.2" stroke="rgba(120,105,95,0.45)" stroke-width="0.80" />
<ellipse cx="721.4" cy="351.3" rx="17.6" ry="9.6" fill="#7d6d63" />
<ellipse cx="721.4" cy="351.3" rx="16.4" ry="8.7" fill="#FCF4EA" />
<ellipse cx="721.4" cy="351.9" rx="14.6" ry="7.4" fill="#FFF8F0" />
<g fill="#2E8EE6" transform="translate(715.80 375.90) skewY(0.0)"><text x="-0.97" y="0" font-family="Liberation Sans, sans-serif" font-weight="bold" font-size="14.5">H<tspan x="8.87" dy="1.2" font-size="8">2</tspan></text></g>
<polygon points="582.9,383.7 565.0,394.0 577.0,396.0 594.9,385.7" fill="rgba(70,95,120,0.28)" />
<polygon points="547.1,367.9 565.0,378.2 565.0,394.0 547.1,383.7" fill="#E9E1D3" />
<polygon points="565.0,378.2 582.9,367.9 582.9,383.7 565.0,394.0" fill="#F1EADD" />
<polygon points="565.0,357.5 582.9,367.9 565.0,378.2 547.1,367.9" fill="#FAF4EA" />
<polygon points="548.6,372.4 563.4,380.9 563.4,388.6 548.6,380.1" fill="#4a4a4a" />
<polygon points="581.4,372.4 566.6,380.9 566.6,388.6 581.4,380.1" fill="#555352" />
<polygon points="606.0,384.0 660.0,354.0 672.0,360.0 620.0,392.0" fill="rgba(70,95,120,0.28)" />
<polygon points="622.0,398.0 670.0,371.0 682.0,377.0 636.0,404.0" fill="rgba(70,95,120,0.28)" />
<line x1="591.5" y1="364.0" x2="591.5" y2="384.0" stroke="#D9C24A" stroke-width="1.60" />
<line x1="601.5" y1="366.0" x2="601.5" y2="392.0" stroke="#D9C24A" stroke-width="1.60" />
<line x1="610.5" y1="372.0" x2="610.5" y2="396.0" stroke="#D9C24A" stroke-width="1.60" />
<g transform="translate(596.5 374.5) rotate(-29.34)"><rect x="0" y="-9.2" width="69.4" height="18.4" rx="7.4" ry="9.2" fill="url(#htg)"/><path d="M19.4,-9.2 q5.1,9.2 0,18.4 h3.8 q5.1,-9.2 0,-18.4 Z" fill="#86A9EA"/><path d="M50.0,-9.2 q5.1,9.2 0,18.4 h3.8 q5.1,-9.2 0,-18.4 Z" fill="#86A9EA"/></g>
<polygon points="650.0,356.0 655.0,353.0 656.5,362.0 653.0,364.0" fill="#EFE7DC" />
<g transform="translate(611.0 391.0) rotate(-29.23)"><rect x="0" y="-9.0" width="62.5" height="18.0" rx="7.2" ry="9.0" fill="url(#htg)"/><path d="M17.5,-9.0 q5.0,9.0 0,18.0 h3.8 q5.0,-9.0 0,-18.0 Z" fill="#86A9EA"/><path d="M45.0,-9.0 q5.0,9.0 0,18.0 h3.8 q5.0,-9.0 0,-18.0 Z" fill="#86A9EA"/></g>
<polygon points="624.0,393.0 629.0,395.0 629.0,405.0 625.0,402.0" fill="#F4ECE1" />
<polygon points="657.0,374.0 662.0,371.0 663.5,381.0 660.0,383.0" fill="#F4ECE1" />
<polyline points="773.0,381.0 907.0,310.2 881.0,295.6" fill="none" stroke="rgba(70,95,120,0.28)" stroke-width="6.00" stroke-linecap="round" stroke-linejoin="round"/>
<polyline points="770.0,370.0 904.0,299.2 878.0,284.6" fill="none" stroke="#D6B499" stroke-width="6.60" stroke-linecap="round" stroke-linejoin="round"/>
<polyline points="770.0,369.2 904.0,298.4 878.0,283.8" fill="none" stroke="#EACFB8" stroke-width="4.75" stroke-linecap="round" stroke-linejoin="round"/>
<polyline points="770.0,368.4 904.0,297.6 878.0,283.0" fill="none" stroke="#F6E4D3" stroke-width="1.98" stroke-linecap="round" stroke-linejoin="round"/>
<polyline points="770.0,376.9 910.2,302.3 884.2,287.7" fill="none" stroke="#D6B499" stroke-width="6.60" stroke-linecap="round" stroke-linejoin="round"/>
<polyline points="770.0,376.1 910.2,301.5 884.2,286.9" fill="none" stroke="#EACFB8" stroke-width="4.75" stroke-linecap="round" stroke-linejoin="round"/>
<polyline points="770.0,375.2 910.2,300.7 884.2,286.1" fill="none" stroke="#F6E4D3" stroke-width="1.98" stroke-linecap="round" stroke-linejoin="round"/>
<polyline points="878.0,285.0 876.5,291.0" fill="none" stroke="#D6B499" stroke-width="6.60" stroke-linecap="round" stroke-linejoin="round"/>
<polyline points="878.0,284.2 876.5,290.2" fill="none" stroke="#EACFB8" stroke-width="4.75" stroke-linecap="round" stroke-linejoin="round"/>
<polyline points="878.0,283.4 876.5,289.4" fill="none" stroke="#F6E4D3" stroke-width="1.98" stroke-linecap="round" stroke-linejoin="round"/>
<polyline points="884.2,288.2 882.6,294.5" fill="none" stroke="#D6B499" stroke-width="6.60" stroke-linecap="round" stroke-linejoin="round"/>
<polyline points="884.2,287.4 882.6,293.7" fill="none" stroke="#EACFB8" stroke-width="4.75" stroke-linecap="round" stroke-linejoin="round"/>
<polyline points="884.2,286.6 882.6,292.9" fill="none" stroke="#F6E4D3" stroke-width="1.98" stroke-linecap="round" stroke-linejoin="round"/>
<path d="M794.1,369.4 v-3.5 M792.6,370.0 l3,-1.6" stroke="#8a3f30" stroke-width="1.1" fill="none"/>
<path d="M830.3,350.2 v-3.5 M828.8,350.8 l3,-1.6" stroke="#8a3f30" stroke-width="1.1" fill="none"/>
<path d="M870.5,329.0 v-3.5 M869.0,329.6 l3,-1.6" stroke="#8a3f30" stroke-width="1.1" fill="none"/>
<polyline points="893.0,360.2 830.0,394.2" fill="none" stroke="rgba(70,95,120,0.28)" stroke-width="6.00" stroke-linecap="round" stroke-linejoin="round"/>
<line x1="890.0" y1="349.2" x2="827.0" y2="383.2" stroke="#D6B499" stroke-width="6.60" stroke-linecap="round"/>
<line x1="890.0" y1="348.4" x2="827.0" y2="382.4" stroke="#EACFB8" stroke-width="4.75" stroke-linecap="round"/>
<line x1="890.0" y1="347.6" x2="827.0" y2="381.6" stroke="#F6E4D3" stroke-width="1.98" stroke-linecap="round"/>
<line x1="890.0" y1="356.1" x2="827.0" y2="390.1" stroke="#D6B499" stroke-width="6.60" stroke-linecap="round"/>
<line x1="890.0" y1="355.3" x2="827.0" y2="389.3" stroke="#EACFB8" stroke-width="4.75" stroke-linecap="round"/>
<line x1="890.0" y1="354.4" x2="827.0" y2="388.4" stroke="#F6E4D3" stroke-width="1.98" stroke-linecap="round"/>
<path d="M872.0,368.0 v-3.5 M870.5,368.6 l3,-1.6" stroke="#8a3f30" stroke-width="1.1" fill="none"/>
<path d="M840.0,386.0 v-3.5 M838.5,386.6 l3,-1.6" stroke="#8a3f30" stroke-width="1.1" fill="none"/>
<polyline points="794.0,383.3 845.0,411.8" fill="none" stroke="rgba(70,95,120,0.28)" stroke-width="6.00" stroke-linecap="round" stroke-linejoin="round"/>
<line x1="797.0" y1="372.3" x2="848.0" y2="400.8" stroke="#D6B499" stroke-width="6.60" stroke-linecap="round"/>
<line x1="797.0" y1="371.5" x2="848.0" y2="400.0" stroke="#EACFB8" stroke-width="4.75" stroke-linecap="round"/>
<line x1="797.0" y1="370.7" x2="848.0" y2="399.2" stroke="#F6E4D3" stroke-width="1.98" stroke-linecap="round"/>
<line x1="790.8" y1="375.8" x2="841.8" y2="404.2" stroke="#D6B499" stroke-width="6.60" stroke-linecap="round"/>
<line x1="790.8" y1="375.0" x2="841.8" y2="403.5" stroke="#EACFB8" stroke-width="4.75" stroke-linecap="round"/>
<line x1="790.8" y1="374.1" x2="841.8" y2="402.6" stroke="#F6E4D3" stroke-width="1.98" stroke-linecap="round"/>
<path d="M806.0,389.0 v-3.5 M804.5,389.6 l3,-1.6" stroke="#8a3f30" stroke-width="1.1" fill="none"/>
<path d="M828.0,401.5 v-3.5 M826.5,402.1 l3,-1.6" stroke="#8a3f30" stroke-width="1.1" fill="none"/>
<polygon points="907.0,354.5 897.5,360.0 911.5,363.0 921.0,357.5" fill="rgba(70,95,120,0.28)" />
<polygon points="888.0,340.5 897.5,346.0 897.5,360.0 888.0,354.5" fill="#E6DDD2" />
<polygon points="897.5,346.0 907.0,340.5 907.0,354.5 897.5,360.0" fill="#D8CEC4" />
<polygon points="897.5,335.0 907.0,340.5 897.5,346.0 888.0,340.5" fill="#CFC6BE" />
<polygon points="897.5,336.2 904.9,340.5 897.5,344.8 890.1,340.5" fill="#BEB4AB" />
<polygon points="897.5,326.5 900.0,330.0 897.5,334.0 895.0,330.0" fill="#F2C94C" />
<path d="M904.5,346 q2.5,-3 4,0 V360" stroke="#6F8792" stroke-width="1.6" fill="none"/>
<path d="M908.0,346 q2.5,-3 4,0 V360" stroke="#6F8792" stroke-width="1.6" fill="none"/>
<polygon points="797.5,430.5 719.6,475.5 739.6,479.5 817.5,434.5" fill="rgba(70,95,120,0.28)" />
<polygon points="678.4,421.1 719.6,444.9 719.6,475.5 678.4,451.7" fill="#E3E1DE" />
<polygon points="719.6,444.9 797.5,399.9 797.5,430.5 719.6,475.5" fill="#F1EFEC" />
<polygon points="756.3,376.1 797.5,399.9 719.6,444.9 678.4,421.1" fill="#F6F4F1" />
<polygon points="755.4,381.6 788.0,400.4 725.6,436.4 693.1,417.6" fill="#9c9a97" />
<polygon points="755.4,380.1 787.8,398.8 725.6,434.7 693.3,416.0" fill="#E9E6E2" />
<polygon points="752.8,386.4 763.2,392.4 751.1,399.4 740.7,393.4" fill="#8d8b8a" />
<polygon points="752.8,384.2 761.9,389.4 749.8,396.4 740.7,391.2" fill="#B9B7B6" />
<polygon points="767.6,394.9 778.0,400.9 765.8,407.9 755.4,401.9" fill="#8d8b8a" />
<polygon points="767.6,392.7 776.7,397.9 764.5,404.9 755.4,399.7" fill="#B9B7B6" />
<polygon points="734.6,396.9 745.0,402.9 732.9,409.9 722.5,403.9" fill="#8d8b8a" />
<polygon points="734.6,394.7 743.7,399.9 731.6,406.9 722.5,401.7" fill="#B9B7B6" />
<polygon points="749.4,405.4 759.8,411.4 747.6,418.4 737.2,412.4" fill="#8d8b8a" />
<polygon points="749.4,403.2 758.5,408.4 746.3,415.4 737.2,410.2" fill="#B9B7B6" />
<polygon points="716.5,407.4 726.9,413.4 714.7,420.4 704.3,414.4" fill="#8d8b8a" />
<polygon points="716.5,405.2 725.6,410.4 713.4,417.4 704.3,412.2" fill="#B9B7B6" />
<polygon points="731.2,415.9 741.6,421.9 729.5,428.9 719.1,422.9" fill="#8d8b8a" />
<polygon points="731.2,413.7 740.3,418.9 728.2,425.9 719.1,420.7" fill="#B9B7B6" />
<polygon points="790.6,424.0 782.4,428.8 782.4,433.8 790.6,429.0" fill="#5c4444" />
<polygon points="790.6,412.5 782.4,417.2 782.4,422.2 790.6,417.5" fill="#5c4444" />
<polygon points="777.4,431.6 769.2,436.4 769.2,441.4 777.4,436.6" fill="#5c4444" />
<polygon points="777.4,420.1 769.2,424.9 769.2,429.9 777.4,425.1" fill="#5c4444" />
<polygon points="764.3,439.2 756.0,443.9 756.0,448.9 764.3,444.2" fill="#5c4444" />
<polygon points="764.3,427.7 756.0,432.4 756.0,437.4 764.3,432.7" fill="#5c4444" />
<polygon points="751.1,446.8 742.9,451.6 742.9,456.6 751.1,451.8" fill="#5c4444" />
<polygon points="751.1,435.3 742.9,440.1 742.9,445.1 751.1,440.3" fill="#5c4444" />
<polygon points="737.9,454.4 729.7,459.1 729.7,464.1 737.9,459.4" fill="#5c4444" />
<polygon points="737.9,442.9 729.7,447.6 729.7,452.6 737.9,447.9" fill="#5c4444" />
<line x1="797.5" y1="430.5" x2="719.6" y2="475.5" stroke="#d5d2ce" stroke-width="1.00" />
<polygon points="869.8,411.2 874.1,413.8 840.3,433.2 822.6,423.0 824.3,422.0 837.7,429.8" fill="rgba(50,70,90,0.32)" />
<polygon points="824.3,413.9 837.7,421.6 837.7,428.1 824.3,420.4" fill="#DFE0E5" />
<polygon points="837.7,421.6 868.9,403.6 868.9,410.1 837.7,428.1" fill="#EBECF0" />
<polygon points="855.5,395.9 868.9,403.6 837.7,421.6 824.3,413.9" fill="#F6F6F8" />
<polygon points="832.4,410.4 843.7,417.0 837.6,420.5 826.2,414.0" fill="#2F8FE6" />
<polygon points="865.4,404.8 861.9,401.6 849.4,408.8 844.7,416.8" fill="#EBECF0" />
<polygon points="863.3,405.4 860.9,403.2 849.7,409.6 846.0,415.4" fill="#2F8FE6" />
<polygon points="857.9,409.1 857.9,403.9 857.0,404.4 857.0,409.6" fill="#EBECF0" />
<polygon points="853.9,411.4 853.9,406.2 853.0,406.7 853.0,411.9" fill="#EBECF0" />
<polygon points="837.6,401.9 849.4,408.8 844.7,416.8 832.8,409.9" fill="#DFE0E5" />
<polygon points="838.2,403.2 848.3,409.1 844.0,415.6 833.8,409.8" fill="#2F8FE6" />
<polygon points="850.0,394.8 861.9,401.6 849.4,408.8 837.6,401.9" fill="#FFFFFF" />
<polygon points="826.0,416.5 836.0,422.3 836.0,424.9 826.0,419.1" fill="#c9cad0" />
<polygon points="860.1,414.0 860.2,413.2 860.4,412.3 860.9,411.4 861.4,410.7 862.0,410.0 862.7,409.5 863.4,409.2 864.0,409.2 864.5,409.3 864.9,409.7 865.2,410.3 865.3,411.0 865.2,411.8 864.9,412.7 864.5,413.6 864.0,414.3 863.4,415.0 862.7,415.5 862.0,415.8 861.4,415.8 860.9,415.7 860.4,415.3 860.2,414.7" fill="#3a3a3a" />
<polygon points="861.2,413.4 861.2,412.9 861.4,412.4 861.6,411.9 861.9,411.4 862.3,411.0 862.7,410.8 863.1,410.6 863.4,410.6 863.8,410.7 864.0,410.9 864.1,411.2 864.2,411.6 864.1,412.1 864.0,412.6 863.8,413.1 863.4,413.6 863.1,414.0 862.7,414.2 862.3,414.4 861.9,414.4 861.6,414.3 861.4,414.1 861.2,413.8" fill="#C9A04A" />
<polygon points="862.0,412.9 862.1,412.7 862.1,412.4 862.2,412.2 862.4,412.0 862.5,411.9 862.7,411.8 862.9,411.7 863.0,411.7 863.1,411.7 863.3,411.8 863.3,411.9 863.3,412.1 863.3,412.3 863.3,412.6 863.1,412.8 863.0,413.0 862.9,413.1 862.7,413.2 862.5,413.3 862.4,413.3 862.2,413.3 862.1,413.2 862.1,413.1" fill="#8f8f8f" />
<polygon points="841.4,424.8 841.5,424.0 841.7,423.1 842.1,422.2 842.7,421.5 843.3,420.8 844.0,420.3 844.7,420.0 845.3,420.0 845.8,420.1 846.2,420.5 846.5,421.1 846.6,421.8 846.5,422.6 846.2,423.5 845.8,424.4 845.3,425.1 844.7,425.8 844.0,426.3 843.3,426.6 842.7,426.6 842.1,426.5 841.7,426.1 841.5,425.5" fill="#3a3a3a" />
<polygon points="842.5,424.2 842.5,423.7 842.7,423.2 842.9,422.7 843.2,422.2 843.6,421.8 844.0,421.6 844.4,421.4 844.7,421.4 845.0,421.5 845.3,421.7 845.4,422.0 845.5,422.4 845.4,422.9 845.3,423.4 845.0,423.9 844.7,424.4 844.4,424.8 844.0,425.0 843.6,425.2 843.2,425.2 842.9,425.1 842.7,424.9 842.5,424.6" fill="#C9A04A" />
<polygon points="843.3,423.7 843.4,423.5 843.4,423.2 843.5,423.0 843.7,422.8 843.8,422.7 844.0,422.5 844.1,422.5 844.3,422.5 844.4,422.5 844.5,422.6 844.6,422.7 844.6,422.9 844.6,423.1 844.5,423.4 844.4,423.6 844.3,423.8 844.1,423.9 844.0,424.0 843.8,424.1 843.7,424.1 843.5,424.1 843.4,424.0 843.4,423.9" fill="#8f8f8f" />
<polygon points="890.3,421.2 894.6,423.8 860.8,443.2 843.1,433.0 844.8,432.0 858.2,439.8" fill="rgba(50,70,90,0.32)" />
<polygon points="844.8,423.9 858.2,431.6 858.2,438.1 844.8,430.4" fill="#DFE0E5" />
<polygon points="858.2,431.6 889.4,413.6 889.4,420.1 858.2,438.1" fill="#EBECF0" />
<polygon points="876.0,405.9 889.4,413.6 858.2,431.6 844.8,423.9" fill="#F6F6F8" />
<polygon points="852.9,420.4 864.2,427.0 858.1,430.5 846.7,424.0" fill="#2F8FE6" />
<polygon points="885.9,414.8 882.4,411.6 869.9,418.8 865.2,426.8" fill="#EBECF0" />
<polygon points="883.8,415.4 881.4,413.2 870.2,419.6 866.5,425.4" fill="#2F8FE6" />
<polygon points="878.4,419.1 878.4,413.9 877.5,414.4 877.5,419.6" fill="#EBECF0" />
<polygon points="874.4,421.4 874.4,416.2 873.5,416.7 873.5,421.9" fill="#EBECF0" />
<polygon points="858.1,411.9 869.9,418.8 865.2,426.8 853.3,419.9" fill="#DFE0E5" />
<polygon points="858.7,413.2 868.8,419.1 864.5,425.6 854.3,419.8" fill="#2F8FE6" />
<polygon points="870.5,404.8 882.4,411.6 869.9,418.8 858.1,411.9" fill="#FFFFFF" />
<polygon points="846.5,426.5 856.5,432.3 856.5,434.9 846.5,429.1" fill="#c9cad0" />
<polygon points="880.6,424.0 880.7,423.2 880.9,422.3 881.4,421.4 881.9,420.7 882.5,420.0 883.2,419.5 883.9,419.2 884.5,419.2 885.0,419.3 885.4,419.7 885.7,420.3 885.8,421.0 885.7,421.8 885.4,422.7 885.0,423.6 884.5,424.3 883.9,425.0 883.2,425.5 882.5,425.8 881.9,425.8 881.4,425.7 880.9,425.3 880.7,424.7" fill="#3a3a3a" />
<polygon points="881.7,423.4 881.7,422.9 881.9,422.4 882.1,421.9 882.4,421.4 882.8,421.0 883.2,420.8 883.6,420.6 883.9,420.6 884.3,420.7 884.5,420.9 884.6,421.2 884.7,421.6 884.6,422.1 884.5,422.6 884.3,423.1 883.9,423.6 883.6,424.0 883.2,424.2 882.8,424.4 882.4,424.4 882.1,424.3 881.9,424.1 881.7,423.8" fill="#C9A04A" />
<polygon points="882.5,422.9 882.6,422.7 882.6,422.4 882.7,422.2 882.9,422.0 883.0,421.9 883.2,421.8 883.4,421.7 883.5,421.7 883.6,421.7 883.8,421.8 883.8,421.9 883.8,422.1 883.8,422.3 883.8,422.6 883.6,422.8 883.5,423.0 883.4,423.1 883.2,423.2 883.0,423.3 882.9,423.3 882.7,423.3 882.6,423.2 882.6,423.1" fill="#8f8f8f" />
<polygon points="861.9,434.8 862.0,434.0 862.2,433.1 862.6,432.2 863.2,431.5 863.8,430.8 864.5,430.3 865.2,430.0 865.8,430.0 866.3,430.1 866.7,430.5 867.0,431.1 867.1,431.8 867.0,432.6 866.7,433.5 866.3,434.4 865.8,435.1 865.2,435.8 864.5,436.3 863.8,436.6 863.2,436.6 862.6,436.5 862.2,436.1 862.0,435.5" fill="#3a3a3a" />
<polygon points="863.0,434.2 863.0,433.7 863.2,433.2 863.4,432.7 863.7,432.2 864.1,431.8 864.5,431.6 864.9,431.4 865.2,431.4 865.5,431.5 865.8,431.7 865.9,432.0 866.0,432.4 865.9,432.9 865.8,433.4 865.5,433.9 865.2,434.4 864.9,434.8 864.5,435.0 864.1,435.2 863.7,435.2 863.4,435.1 863.2,434.9 863.0,434.6" fill="#C9A04A" />
<polygon points="863.8,433.7 863.9,433.5 863.9,433.2 864.0,433.0 864.2,432.8 864.3,432.7 864.5,432.5 864.6,432.5 864.8,432.5 864.9,432.5 865.0,432.6 865.1,432.7 865.1,432.9 865.1,433.1 865.0,433.4 864.9,433.6 864.8,433.8 864.6,433.9 864.5,434.0 864.3,434.1 864.2,434.1 864.0,434.1 863.9,434.0 863.9,433.9" fill="#8f8f8f" />
<polygon points="896.3,467.3 842.0,463.0 858.0,450.5 896.3,440.0" fill="rgba(70,95,120,0.16)" />
<polygon points="896.3,465.3 970.8,424.2 972.3,427.4 897.8,468.9" fill="#9EA9B3" />
<polygon points="896.3,417.5 970.8,375.0 970.8,424.2 896.3,465.3" fill="#FDF7ED" />
<text transform="matrix(1.407 -0.8025 0 1.5875 908.79 446.11)" x="0" y="0" font-family="'Liberation Sans', 'Noto Sans CJK KR', sans-serif" font-size="20" fill="#2F8FE8">이송</text>
<rect x="354.5" y="76" width="493.3" height="170.5" fill="rgba(15,15,15,0.56)"/>
<rect x="584.0" y="73.7" width="264.0" height="2.6" fill="url(#lng)"/><rect x="584.0" y="75.6" width="264.0" height="1.3" fill="url(#lnf)"/>
<rect x="354.5" y="243.6" width="494.0" height="2.6" fill="#0B3566" opacity="0.75"/><rect x="354.5" y="246.1" width="494.0" height="1.3" fill="#6FACEE"/>
<rect x="906" y="71.5" width="322" height="170.5" fill="rgba(15,15,15,0.56)"/>
<rect x="1133.0" y="69.3" width="95.0" height="2.6" fill="url(#lng)"/><rect x="1133.0" y="71.2" width="95.0" height="1.3" fill="url(#lnf)"/>
<rect x="906.0" y="239.2" width="322.0" height="2.6" fill="#0B3566" opacity="0.75"/><rect x="906.0" y="241.7" width="322.0" height="1.3" fill="#6FACEE"/>
<rect x="684" y="500" width="411" height="169.5" fill="rgba(15,15,15,0.56)"/>
<rect x="912.0" y="497.7" width="183.0" height="2.6" fill="url(#lng)"/><rect x="912.0" y="499.6" width="183.0" height="1.3" fill="url(#lnf)"/>
<rect x="684.0" y="666.7" width="411.0" height="2.6" fill="#0B3566" opacity="0.75"/><rect x="684.0" y="669.2" width="411.0" height="1.3" fill="#6FACEE"/>
<polygon points="998.6,172.4 1019.4,184.4 998.6,196.4 977.8,184.4" fill="#255C8E" />
<polygon points="983.9,189.0 906.0,232.6 906.0,242.0 906.9,242.0 991.6,192.8" fill="#255C8E" />
<circle cx="444.0" cy="170.9" r="58.5" fill="none" stroke="#2F8FE8" stroke-width="6" filter="url(#glow)" opacity="0.9"/>
<circle cx="444.0" cy="170.9" r="57.5" fill="url(#cbg1)" />
<g clip-path="url(#c1)">
<ellipse cx="490.0" cy="167.5" rx="16.5" ry="37.5" fill="#2a2e30" />
<circle cx="490.4" cy="132.2" r="2.0" fill="#9a9ea0" />
<circle cx="495.0" cy="135.2" r="2.0" fill="#9a9ea0" />
<circle cx="499.0" cy="141.8" r="2.0" fill="#9a9ea0" />
<circle cx="501.9" cy="151.1" r="2.0" fill="#9a9ea0" />
<circle cx="503.3" cy="162.2" r="2.0" fill="#9a9ea0" />
<circle cx="503.3" cy="173.9" r="2.0" fill="#9a9ea0" />
<circle cx="501.6" cy="184.9" r="2.0" fill="#9a9ea0" />
<circle cx="498.6" cy="194.0" r="2.0" fill="#9a9ea0" />
<circle cx="494.6" cy="200.2" r="2.0" fill="#9a9ea0" />
<ellipse cx="485.0" cy="167.0" rx="16.5" ry="39.5" fill="#55595b" />
<ellipse cx="476.0" cy="167.0" rx="16.5" ry="39.5" fill="#7b7f81" />
<ellipse cx="473.5" cy="166.8" rx="16.5" ry="39.5" fill="#25282a" />
<ellipse cx="472.0" cy="166.5" rx="16.5" ry="39.5" fill="#6a6e70" />
<ellipse cx="464.0" cy="166.5" rx="16.5" ry="39.5" fill="#8e9294" />
<ellipse cx="460.0" cy="166.5" rx="16.5" ry="39.5" fill="url(#fl1)" />
<circle cx="452.1" cy="139.7" r="2.3" fill="#c9cdcf" />
<circle cx="452.7" cy="140.2" r="1.2" fill="#5a5e60" />
<circle cx="455.2" cy="135.0" r="2.3" fill="#c9cdcf" />
<circle cx="455.8" cy="135.5" r="1.2" fill="#5a5e60" />
<circle cx="458.7" cy="132.7" r="2.3" fill="#c9cdcf" />
<circle cx="459.3" cy="133.2" r="1.2" fill="#5a5e60" />
<circle cx="462.2" cy="133.0" r="2.3" fill="#c9cdcf" />
<circle cx="462.8" cy="133.5" r="1.2" fill="#5a5e60" />
<circle cx="465.7" cy="135.9" r="2.3" fill="#c9cdcf" />
<circle cx="466.3" cy="136.4" r="1.2" fill="#5a5e60" />
<circle cx="468.6" cy="141.2" r="2.3" fill="#c9cdcf" />
<circle cx="469.2" cy="141.7" r="1.2" fill="#5a5e60" />
<circle cx="470.9" cy="148.5" r="2.3" fill="#c9cdcf" />
<circle cx="471.5" cy="149.0" r="1.2" fill="#5a5e60" />
<circle cx="472.4" cy="157.1" r="2.3" fill="#c9cdcf" />
<circle cx="473.0" cy="157.6" r="1.2" fill="#5a5e60" />
<circle cx="472.9" cy="166.5" r="2.3" fill="#c9cdcf" />
<circle cx="473.5" cy="167.0" r="1.2" fill="#5a5e60" />
<circle cx="472.4" cy="175.9" r="2.3" fill="#c9cdcf" />
<circle cx="473.0" cy="176.4" r="1.2" fill="#5a5e60" />
<circle cx="470.9" cy="184.5" r="2.3" fill="#c9cdcf" />
<circle cx="471.5" cy="185.0" r="1.2" fill="#5a5e60" />
<circle cx="468.6" cy="191.8" r="2.3" fill="#c9cdcf" />
<circle cx="469.2" cy="192.3" r="1.2" fill="#5a5e60" />
<circle cx="465.7" cy="197.1" r="2.3" fill="#c9cdcf" />
<circle cx="466.3" cy="197.6" r="1.2" fill="#5a5e60" />
<circle cx="462.2" cy="200.0" r="2.3" fill="#c9cdcf" />
<circle cx="462.8" cy="200.5" r="1.2" fill="#5a5e60" />
<circle cx="458.7" cy="200.3" r="2.3" fill="#c9cdcf" />
<circle cx="459.3" cy="200.8" r="1.2" fill="#5a5e60" />
<circle cx="455.2" cy="198.0" r="2.3" fill="#c9cdcf" />
<circle cx="455.8" cy="198.5" r="1.2" fill="#5a5e60" />
<circle cx="452.1" cy="193.3" r="2.3" fill="#c9cdcf" />
<circle cx="452.7" cy="193.8" r="1.2" fill="#5a5e60" />
<ellipse cx="456.5" cy="167.6" rx="4.6" ry="24.3" fill="#b4b8ba" />
<ellipse cx="455.2" cy="167.6" rx="4.6" ry="23.9" fill="#7f8486" />
<path d="M380,146.6 L440,144.8 L455.2,143.7 A4.6,23.9 0 0 0 455.2,191.5 L440,189.8 L380,191.6 Z" fill="url(#pg1)"/>
<path d="M476,170 l3,0 l0,11 l6,2" stroke="#b9bdbf" stroke-width="1.1" fill="none"/>
</g>
<circle cx="444.0" cy="170.9" r="58.0" fill="none" stroke="#378DE0" stroke-width="2.9"/><path d="M386.7,155.6 A59.3,59.3 0 1 0 501.3,155.6 A58.6,58.6 0 1 1 386.7,155.6 Z" fill="#2F8FE8"/>
<circle cx="664.4" cy="170.8" r="58.5" fill="none" stroke="#2F8FE8" stroke-width="6" filter="url(#glow)" opacity="0.9"/>
<circle cx="664.4" cy="170.8" r="57.5" fill="url(#cbg2)" />
<g clip-path="url(#c2)">
<polygon points="629.0,138.5 722.0,129.0 730.0,170.0 722.0,178.0 640.0,192.0" fill="url(#sil)" />
<polygon points="664.0,141.0 730.0,136.0 730.0,166.0 668.0,172.0" fill="url(#sil)" />
<polygon points="672.0,171.0 730.0,163.0 730.0,182.0 690.0,190.0" fill="url(#sil)" />
<polygon points="690.0,178.0 730.0,172.0 730.0,205.0 700.0,205.0" fill="#b4b9bc" />
<ellipse cx="629.6" cy="165.5" rx="16.4" ry="27.7" fill="#d9dcde" /><ellipse cx="629.6" cy="165.5" rx="15.2" ry="26.5" fill="#8d9295" /><ellipse cx="629.6" cy="165.5" rx="14.2" ry="25.5" fill="#050505" />
<ellipse cx="664.3" cy="157.3" rx="10.6" ry="16.1" fill="#d9dcde" /><ellipse cx="664.3" cy="157.3" rx="9.6" ry="15.1" fill="#8d9295" /><ellipse cx="664.3" cy="157.3" rx="8.8" ry="14.3" fill="#050505" />
<ellipse cx="655.0" cy="183.4" rx="10.8" ry="16.1" fill="#d9dcde" /><ellipse cx="655.0" cy="183.4" rx="9.8" ry="15.1" fill="#8d9295" /><ellipse cx="655.0" cy="183.4" rx="9.0" ry="14.3" fill="#050505" />
<ellipse cx="674.6" cy="186.9" rx="10.8" ry="16.1" fill="#d9dcde" /><ellipse cx="674.6" cy="186.9" rx="9.8" ry="15.1" fill="#8d9295" /><ellipse cx="674.6" cy="186.9" rx="9.0" ry="14.3" fill="#050505" />
<ellipse cx="695.0" cy="184.4" rx="5.2" ry="7.4" fill="#d9dcde" /><ellipse cx="695.0" cy="184.4" rx="4.5" ry="6.7" fill="#8d9295" /><ellipse cx="695.0" cy="184.4" rx="4.0" ry="6.2" fill="#050505" />
<ellipse cx="706.3" cy="187.3" rx="5.2" ry="7.4" fill="#d9dcde" /><ellipse cx="706.3" cy="187.3" rx="4.5" ry="6.7" fill="#8d9295" /><ellipse cx="706.3" cy="187.3" rx="4.0" ry="6.2" fill="#050505" />
<ellipse cx="711.9" cy="174.3" rx="5.8" ry="8.4" fill="#d9dcde" /><ellipse cx="711.9" cy="174.3" rx="5.1" ry="7.7" fill="#8d9295" /><ellipse cx="711.9" cy="174.3" rx="4.6" ry="7.2" fill="#050505" />
<ellipse cx="689.3" cy="198.1" rx="5.2" ry="7.4" fill="#d9dcde" /><ellipse cx="689.3" cy="198.1" rx="4.5" ry="6.7" fill="#8d9295" /><ellipse cx="689.3" cy="198.1" rx="4.0" ry="6.2" fill="#050505" />
<ellipse cx="700.4" cy="200.2" rx="5.2" ry="7.4" fill="#d9dcde" /><ellipse cx="700.4" cy="200.2" rx="4.5" ry="6.7" fill="#8d9295" /><ellipse cx="700.4" cy="200.2" rx="4.0" ry="6.2" fill="#050505" />
<ellipse cx="716.8" cy="188.7" rx="5.2" ry="7.4" fill="#d9dcde" /><ellipse cx="716.8" cy="188.7" rx="4.5" ry="6.7" fill="#8d9295" /><ellipse cx="716.8" cy="188.7" rx="4.0" ry="6.2" fill="#050505" />
<ellipse cx="710.8" cy="201.5" rx="5.2" ry="7.4" fill="#d9dcde" /><ellipse cx="710.8" cy="201.5" rx="4.5" ry="6.7" fill="#8d9295" /><ellipse cx="710.8" cy="201.5" rx="4.0" ry="6.2" fill="#050505" />
<ellipse cx="721.0" cy="200.0" rx="5.2" ry="7.4" fill="#d9dcde" /><ellipse cx="721.0" cy="200.0" rx="4.5" ry="6.7" fill="#8d9295" /><ellipse cx="721.0" cy="200.0" rx="4.0" ry="6.2" fill="#050505" />
</g>
<circle cx="664.4" cy="170.8" r="58.0" fill="none" stroke="#378DE0" stroke-width="2.9"/><path d="M607.1,155.5 A59.3,59.3 0 1 0 721.7,155.5 A58.6,58.6 0 1 1 607.1,155.5 Z" fill="#2F8FE8"/>
<polygon points="1169.3,144.8 1210.9,168.8 1088.8,239.3 1047.2,215.3" fill="#101010" />
<polygon points="1080.1,190.3 1106.1,205.3 1106.1,212.3 1080.1,197.3" fill="#2c2c2c" />
<polygon points="1106.1,205.3 1192.7,155.3 1192.7,162.3 1106.1,212.3" fill="#333" />
<polygon points="1166.7,140.3 1192.7,155.3 1106.1,205.3 1080.1,190.3" fill="#3a3a3a" />
<polygon points="1094.8,169.8 1126.0,187.8 1126.0,196.8 1094.8,178.8" fill="#8b8b89" />
<polygon points="1126.0,187.8 1198.7,145.8 1198.7,154.8 1126.0,196.8" fill="#9E9E9C" />
<polygon points="1167.6,127.8 1198.7,145.8 1126.0,187.8 1094.8,169.8" fill="#B9B9B7" />
<polygon points="1169.9,167.9 1170.2,165.2 1171.1,162.3 1172.4,159.4 1174.2,156.8 1176.3,154.6 1178.6,152.9 1180.8,152.0 1182.9,151.8 1184.7,152.3 1189.9,155.3 1191.3,156.6 1192.1,158.5 1192.4,160.9 1192.1,163.7 1191.3,166.6 1189.9,169.5 1188.1,172.1 1186.0,174.3 1183.8,175.9 1181.5,176.9 1179.4,177.1 1177.6,176.6 1172.4,173.6 1171.1,172.3 1170.2,170.4" fill="#1f1f1f" />
<polygon points="1175.1,171.0 1175.4,168.2 1176.3,165.3 1177.6,162.4 1179.4,159.8 1181.5,157.6 1183.8,156.0 1186.0,155.0 1188.1,154.8 1189.9,155.3 1191.3,156.6 1192.1,158.5 1192.4,161.0 1192.1,163.7 1191.3,166.6 1189.9,169.5 1188.1,172.1 1186.0,174.3 1183.8,176.0 1181.5,176.9 1179.4,177.1 1177.6,176.6 1176.3,175.3 1175.4,173.4" fill="#2e2e2e" />
<polygon points="1178.7,168.9 1178.9,167.3 1179.4,165.6 1180.2,163.9 1181.3,162.4 1182.5,161.1 1183.8,160.2 1185.1,159.6 1186.3,159.5 1187.3,159.8 1188.1,160.5 1188.6,161.6 1188.8,163.1 1188.6,164.6 1188.1,166.3 1187.3,168.0 1186.3,169.5 1185.1,170.8 1183.8,171.8 1182.5,172.3 1181.3,172.4 1180.2,172.1 1179.4,171.4 1178.9,170.3" fill="#bdbdbd" />
<polygon points="1181.6,167.2 1181.7,166.5 1181.9,165.8 1182.2,165.1 1182.7,164.4 1183.2,163.9 1183.8,163.5 1184.3,163.2 1184.8,163.2 1185.3,163.3 1185.6,163.6 1185.9,164.1 1185.9,164.7 1185.9,165.4 1185.6,166.1 1185.3,166.8 1184.8,167.5 1184.3,168.0 1183.8,168.5 1183.2,168.7 1182.7,168.7 1182.2,168.6 1181.9,168.3 1181.7,167.8" fill="#8f8f8f" />
<line x1="1130.3" y1="149.3" x2="1130.3" y2="108.3" stroke="#B9826A" stroke-width="1.60" />
<polygon points="1092.2,160.7 1092.4,158.7 1093.0,157.0 1094.0,155.8 1161.6,116.8 1162.9,116.0 1165.5,115.3 1168.1,115.0 1170.7,115.3 1173.1,116.1 1175.3,117.5 1177.1,119.3 1178.5,121.5 1179.3,123.9 1179.6,126.5 1179.3,129.1 1178.5,131.5 1177.1,133.7 1174.6,136.2 1107.0,175.2 1105.7,176.0 1104.2,176.2 1102.4,175.9 1100.5,175.1 1098.7,173.8 1096.9,172.1 1095.4,170.0 1094.0,167.7 1093.0,165.3 1092.4,163.0" fill="#2F97F0" />
<polygon points="1174.0,136.7 1174.1,136.6 1174.3,136.5 1174.5,136.3 1174.7,136.2 1174.8,136.0 1175.0,135.9 1175.1,135.7 1175.2,135.5 1175.4,135.3 1175.5,135.2 1175.6,134.9 1175.7,134.7 1175.8,134.5 1175.9,134.3 1176.0,134.1 1176.1,133.8 1176.1,133.6 1176.2,133.3 1176.2,133.1 1176.3,132.8 1176.3,132.5 1176.4,132.2 1176.4,131.9 1176.4,131.7 1176.4,131.4 1176.4,131.1 1176.4,130.8 1176.4,130.4 1108.8,169.4 1108.8,169.8 1108.9,170.1 1108.9,170.4 1108.8,170.7 1108.8,170.9 1108.8,171.2 1108.8,171.5 1108.7,171.8 1108.7,172.1 1108.6,172.3 1108.6,172.6 1108.5,172.8 1108.4,173.1 1108.4,173.3 1108.3,173.5 1108.2,173.7 1108.1,173.9 1107.9,174.2 1107.8,174.3 1107.7,174.5 1107.6,174.7 1107.4,174.9 1107.3,175.0 1107.1,175.2 1106.9,175.3 1106.8,175.5 1106.6,175.6 1106.4,175.7" fill="#2482D6" />
<polygon points="1172.2,120.6 1172.0,120.3 1171.7,119.9 1171.4,119.6 1171.1,119.3 1170.8,119.0 1170.5,118.7 1170.2,118.5 1169.9,118.2 1169.6,118.0 1169.3,117.7 1169.0,117.5 1168.7,117.3 1168.4,117.1 1168.1,116.9 1167.8,116.7 1167.5,116.6 1167.2,116.4 1166.9,116.3 1166.5,116.2 1166.2,116.1 1165.9,116.0 1165.6,115.9 1165.3,115.9 1165.1,115.8 1164.8,115.8 1164.5,115.8 1164.2,115.8 1163.9,115.8 1096.4,154.8 1096.7,154.8 1096.9,154.8 1097.2,154.8 1097.5,154.8 1097.8,154.9 1098.1,154.9 1098.4,155.0 1098.7,155.1 1099.0,155.2 1099.3,155.3 1099.6,155.4 1099.9,155.6 1100.2,155.7 1100.5,155.9 1100.9,156.1 1101.2,156.3 1101.5,156.5 1101.8,156.7 1102.1,157.0 1102.4,157.2 1102.7,157.5 1103.0,157.7 1103.3,158.0 1103.6,158.3 1103.9,158.6 1104.1,158.9 1104.4,159.3 1104.7,159.6" fill="#55B0FA" />
<polygon points="1108.5,170.1 1108.7,168.1 1109.3,166.4 1110.3,165.2 1177.9,126.2 1179.2,125.4 1181.8,124.7 1184.4,124.4 1186.9,124.7 1189.4,125.5 1191.5,126.9 1193.4,128.7 1194.8,130.9 1195.6,133.3 1195.9,135.9 1195.6,138.5 1194.8,140.9 1193.4,143.1 1190.9,145.6 1123.3,184.6 1122.0,185.4 1120.4,185.6 1118.7,185.3 1116.8,184.5 1115.0,183.2 1113.2,181.5 1111.6,179.4 1110.3,177.1 1109.3,174.7 1108.7,172.4" fill="#2F97F0" />
<polygon points="1190.2,146.1 1190.4,146.0 1190.6,145.9 1190.8,145.7 1190.9,145.6 1191.1,145.4 1191.2,145.3 1191.4,145.1 1191.5,144.9 1191.6,144.7 1191.8,144.6 1191.9,144.3 1192.0,144.1 1192.1,143.9 1192.2,143.7 1192.3,143.5 1192.3,143.2 1192.4,143.0 1192.5,142.7 1192.5,142.5 1192.6,142.2 1192.6,141.9 1192.6,141.6 1192.7,141.3 1192.7,141.1 1192.7,140.8 1192.7,140.5 1192.7,140.2 1192.7,139.8 1125.1,178.8 1125.1,179.2 1125.1,179.5 1125.1,179.8 1125.1,180.1 1125.1,180.3 1125.1,180.6 1125.1,180.9 1125.0,181.2 1125.0,181.5 1124.9,181.7 1124.9,182.0 1124.8,182.2 1124.7,182.5 1124.6,182.7 1124.5,182.9 1124.4,183.1 1124.3,183.3 1124.2,183.6 1124.1,183.7 1124.0,183.9 1123.8,184.1 1123.7,184.3 1123.5,184.4 1123.4,184.6 1123.2,184.7 1123.1,184.9 1122.9,185.0 1122.7,185.1" fill="#2482D6" />
<polygon points="1188.5,130.0 1188.3,129.7 1188.0,129.3 1187.7,129.0 1187.4,128.7 1187.1,128.4 1186.8,128.1 1186.5,127.9 1186.2,127.6 1185.9,127.4 1185.6,127.1 1185.3,126.9 1185.0,126.7 1184.7,126.5 1184.4,126.3 1184.1,126.1 1183.7,126.0 1183.4,125.8 1183.1,125.7 1182.8,125.6 1182.5,125.5 1182.2,125.4 1181.9,125.3 1181.6,125.3 1181.3,125.2 1181.0,125.2 1180.8,125.2 1180.5,125.2 1180.2,125.2 1112.7,164.2 1112.9,164.2 1113.2,164.2 1113.5,164.2 1113.8,164.2 1114.1,164.3 1114.4,164.3 1114.7,164.4 1115.0,164.5 1115.3,164.6 1115.6,164.7 1115.9,164.8 1116.2,165.0 1116.5,165.1 1116.8,165.3 1117.1,165.5 1117.4,165.7 1117.8,165.9 1118.1,166.1 1118.4,166.4 1118.7,166.6 1119.0,166.9 1119.3,167.1 1119.6,167.4 1119.9,167.7 1120.1,168.0 1120.4,168.3 1120.7,168.7 1121.0,169.0" fill="#55B0FA" />
<polygon points="1092.2,143.9 1092.4,141.9 1093.0,140.2 1094.0,139.0 1161.6,100.0 1162.9,99.2 1165.5,98.5 1168.1,98.2 1170.7,98.5 1173.1,99.3 1175.3,100.7 1177.1,102.5 1178.5,104.7 1179.3,107.1 1179.6,109.7 1179.3,112.3 1178.5,114.7 1177.1,116.9 1174.6,119.4 1107.0,158.4 1105.7,159.2 1104.2,159.4 1102.4,159.1 1100.5,158.3 1098.7,157.0 1096.9,155.3 1095.4,153.2 1094.0,150.9 1093.0,148.5 1092.4,146.2" fill="#2F97F0" />
<polygon points="1174.0,119.9 1174.1,119.8 1174.3,119.7 1174.5,119.5 1174.7,119.4 1174.8,119.2 1175.0,119.1 1175.1,118.9 1175.2,118.7 1175.4,118.5 1175.5,118.4 1175.6,118.1 1175.7,117.9 1175.8,117.7 1175.9,117.5 1176.0,117.3 1176.1,117.0 1176.1,116.8 1176.2,116.5 1176.2,116.3 1176.3,116.0 1176.3,115.7 1176.4,115.4 1176.4,115.1 1176.4,114.9 1176.4,114.6 1176.4,114.3 1176.4,114.0 1176.4,113.6 1108.8,152.6 1108.8,153.0 1108.9,153.3 1108.9,153.6 1108.8,153.9 1108.8,154.1 1108.8,154.4 1108.8,154.7 1108.7,155.0 1108.7,155.3 1108.6,155.5 1108.6,155.8 1108.5,156.0 1108.4,156.3 1108.4,156.5 1108.3,156.7 1108.2,156.9 1108.1,157.1 1107.9,157.4 1107.8,157.5 1107.7,157.7 1107.6,157.9 1107.4,158.1 1107.3,158.2 1107.1,158.4 1106.9,158.5 1106.8,158.7 1106.6,158.8 1106.4,158.9" fill="#2482D6" />
<polygon points="1172.2,103.8 1172.0,103.5 1171.7,103.1 1171.4,102.8 1171.1,102.5 1170.8,102.2 1170.5,101.9 1170.2,101.7 1169.9,101.4 1169.6,101.2 1169.3,100.9 1169.0,100.7 1168.7,100.5 1168.4,100.3 1168.1,100.1 1167.8,99.9 1167.5,99.8 1167.2,99.6 1166.9,99.5 1166.5,99.4 1166.2,99.3 1165.9,99.2 1165.6,99.1 1165.3,99.1 1165.1,99.0 1164.8,99.0 1164.5,99.0 1164.2,99.0 1163.9,99.0 1096.4,138.0 1096.7,138.0 1096.9,138.0 1097.2,138.0 1097.5,138.0 1097.8,138.1 1098.1,138.1 1098.4,138.2 1098.7,138.3 1099.0,138.4 1099.3,138.5 1099.6,138.6 1099.9,138.8 1100.2,138.9 1100.5,139.1 1100.9,139.3 1101.2,139.5 1101.5,139.7 1101.8,139.9 1102.1,140.2 1102.4,140.4 1102.7,140.7 1103.0,140.9 1103.3,141.2 1103.6,141.5 1103.9,141.8 1104.1,142.1 1104.4,142.5 1104.7,142.8" fill="#55B0FA" />
<polygon points="1108.5,153.3 1108.7,151.3 1109.3,149.6 1110.3,148.4 1177.9,109.4 1179.2,108.6 1181.8,107.9 1184.4,107.6 1186.9,107.9 1189.4,108.7 1191.5,110.1 1193.4,111.9 1194.8,114.1 1195.6,116.5 1195.9,119.1 1195.6,121.7 1194.8,124.1 1193.4,126.3 1190.9,128.8 1123.3,167.8 1122.0,168.6 1120.4,168.8 1118.7,168.5 1116.8,167.7 1115.0,166.4 1113.2,164.7 1111.6,162.6 1110.3,160.3 1109.3,157.9 1108.7,155.6" fill="#2F97F0" />
<polygon points="1190.2,129.3 1190.4,129.2 1190.6,129.1 1190.8,128.9 1190.9,128.8 1191.1,128.6 1191.2,128.5 1191.4,128.3 1191.5,128.1 1191.6,127.9 1191.8,127.8 1191.9,127.5 1192.0,127.3 1192.1,127.1 1192.2,126.9 1192.3,126.7 1192.3,126.4 1192.4,126.2 1192.5,125.9 1192.5,125.7 1192.6,125.4 1192.6,125.1 1192.6,124.8 1192.7,124.5 1192.7,124.3 1192.7,124.0 1192.7,123.7 1192.7,123.4 1192.7,123.0 1125.1,162.0 1125.1,162.4 1125.1,162.7 1125.1,163.0 1125.1,163.3 1125.1,163.5 1125.1,163.8 1125.1,164.1 1125.0,164.4 1125.0,164.7 1124.9,164.9 1124.9,165.2 1124.8,165.4 1124.7,165.7 1124.6,165.9 1124.5,166.1 1124.4,166.3 1124.3,166.5 1124.2,166.8 1124.1,166.9 1124.0,167.1 1123.8,167.3 1123.7,167.5 1123.5,167.6 1123.4,167.8 1123.2,167.9 1123.1,168.1 1122.9,168.2 1122.7,168.3" fill="#2482D6" />
<polygon points="1188.5,113.2 1188.3,112.9 1188.0,112.5 1187.7,112.2 1187.4,111.9 1187.1,111.6 1186.8,111.3 1186.5,111.1 1186.2,110.8 1185.9,110.6 1185.6,110.3 1185.3,110.1 1185.0,109.9 1184.7,109.7 1184.4,109.5 1184.1,109.3 1183.7,109.2 1183.4,109.0 1183.1,108.9 1182.8,108.8 1182.5,108.7 1182.2,108.6 1181.9,108.5 1181.6,108.5 1181.3,108.4 1181.0,108.4 1180.8,108.4 1180.5,108.4 1180.2,108.4 1112.7,147.4 1112.9,147.4 1113.2,147.4 1113.5,147.4 1113.8,147.4 1114.1,147.5 1114.4,147.5 1114.7,147.6 1115.0,147.7 1115.3,147.8 1115.6,147.9 1115.9,148.0 1116.2,148.2 1116.5,148.3 1116.8,148.5 1117.1,148.7 1117.4,148.9 1117.8,149.1 1118.1,149.3 1118.4,149.6 1118.7,149.8 1119.0,150.1 1119.3,150.3 1119.6,150.6 1119.9,150.9 1120.1,151.2 1120.4,151.5 1120.7,151.9 1121.0,152.2" fill="#55B0FA" />
<line x1="1161.9" y1="169.6" x2="1161.9" y2="131.6" stroke="#8C8078" stroke-width="2.00" />
<polygon points="1158.5,150.4 1161.5,152.1 1161.5,154.3 1158.5,152.6" fill="#E9A98E" />
<polygon points="1161.5,152.1 1164.5,150.4 1164.5,152.6 1161.5,154.3" fill="#D9967A" />
<polygon points="1161.5,148.6 1164.5,150.4 1161.5,152.1 1158.5,150.4" fill="#F2B9A0" />
<polygon points="1158.5,166.4 1161.5,168.1 1161.5,170.3 1158.5,168.6" fill="#E9A98E" />
<polygon points="1161.5,168.1 1164.5,166.4 1164.5,168.6 1161.5,170.3" fill="#D9967A" />
<polygon points="1161.5,164.6 1164.5,166.4 1161.5,168.1 1158.5,166.4" fill="#F2B9A0" />
<polygon points="1126.9,187.3 1119.9,191.3 1119.9,156.3 1124.3,141.8 1126.9,140.3" fill="#E6E1D6" />
<polygon points="1093.1,123.8 1124.3,141.8 1119.9,156.3 1088.8,138.3" fill="#FBF7EE" />
<polygon points="1095.7,122.3 1126.9,140.3 1124.3,141.8 1093.1,123.8" fill="#FFFDF7" />
<polygon points="1119.9,156.3 1090.5,173.3 1086.2,190.1 1086.2,220.8 1119.9,201.3" fill="#EDEDEB" />
<polygon points="1094.7,216.4 1094.9,214.2 1095.3,212.0 1096.0,209.7 1096.9,207.5 1098.0,205.3 1099.4,203.2 1100.9,201.2 1102.5,199.5 1104.2,198.0 1106.0,196.9 1107.8,196.0 1109.5,195.5 1111.1,195.3 1112.6,195.5 1114.0,196.1 1115.1,197.0 1116.0,198.2 1116.7,199.7 1117.1,201.4 1117.3,203.4 1094.7,219.9 1117.3,206.9" fill="#4a4a4a" />
<polygon points="1097.3,215.4 1097.6,212.6 1098.5,209.7 1099.9,206.8 1101.7,204.2 1103.8,202.0 1106.0,200.4 1108.2,199.4 1110.3,199.2 1112.1,199.7 1113.5,201.0 1114.4,202.9 1114.7,205.4 1114.4,208.1 1113.5,211.0 1112.1,213.9 1110.3,216.5 1108.2,218.7 1106.0,220.4 1103.8,221.3 1101.7,221.5 1099.9,221.0 1098.5,219.7 1097.6,217.8" fill="#2e2e2e" />
<polygon points="1101.0,213.2 1101.1,211.7 1101.6,210.0 1102.4,208.3 1103.5,206.8 1104.7,205.5 1106.0,204.6 1107.3,204.0 1108.5,203.9 1109.5,204.2 1110.3,204.9 1110.8,206.0 1111.0,207.5 1110.8,209.0 1110.3,210.7 1109.5,212.4 1108.5,213.9 1107.3,215.2 1106.0,216.2 1104.7,216.7 1103.5,216.8 1102.4,216.5 1101.6,215.8 1101.1,214.7" fill="#bdbdbd" />
<polygon points="1103.8,211.6 1103.9,210.9 1104.1,210.2 1104.5,209.5 1104.9,208.8 1105.4,208.3 1106.0,207.9 1106.6,207.6 1107.1,207.6 1107.5,207.7 1107.9,208.0 1108.1,208.5 1108.2,209.1 1108.1,209.8 1107.9,210.5 1107.5,211.2 1107.1,211.9 1106.6,212.4 1106.0,212.9 1105.4,213.1 1104.9,213.1 1104.5,213.0 1104.1,212.7 1103.9,212.2" fill="#8f8f8f" />
<polygon points="1114.7,162.8 1092.1,175.9 1088.2,190.6 1114.7,175.3" fill="#CFE2F2" />
<polygon points="1114.7,162.8 1105.2,168.3 1112.1,176.8 1114.7,175.3" fill="#E3EFF8" />
<line x1="1116.5" y1="158.3" x2="1116.5" y2="201.3" stroke="#cfcfcd" stroke-width="0.80" />
<polygon points="1087.6,188.0 1089.0,188.8 1089.0,198.8 1087.6,198.0" fill="#4c4c4c" />
<polygon points="1089.0,188.8 1091.4,187.4 1091.4,197.4 1089.0,198.8" fill="#5a5a5a" />
<polygon points="1090.1,186.6 1091.4,187.4 1089.0,188.8 1087.6,188.0" fill="#6a6a6a" />
<polygon points="1088.8,138.3 1119.9,156.3 1090.5,173.3 1059.3,155.3" fill="#F7F7F5" />
<text transform="matrix(1.108 0.640 -1.384 0.800 1070.83 155.34)" x="0" y="0" font-family="Liberation Sans, sans-serif" font-weight="bold" font-size="20" fill="#2E8EE6">H</text>
<text transform="matrix(0.614 0.354 -0.682 0.394 1083.14 165.45)" x="0" y="0" font-family="Liberation Sans, sans-serif" font-weight="bold" font-size="20" fill="#2E8EE6">2</text>
<polygon points="1059.3,155.3 1090.5,173.3 1086.2,190.1 1055.0,172.1" fill="#CFE2F2" />
<polygon points="1060.8,157.5 1076.4,166.5 1065.6,177.2 1057.0,172.2" fill="#E6F1F9" />
<line x1="1059.3" y1="155.3" x2="1090.5" y2="173.3" stroke="#ffffff" stroke-width="1.00" />
<line x1="1057.6" y1="171.8" x2="1083.6" y2="186.8" stroke="#3a3f44" stroke-width="1.10" />
<polygon points="1055.0,172.1 1086.2,190.1 1086.2,220.8 1055.0,202.8" fill="#E4E4E2" />
<polygon points="1055.4,182.1 1061.9,185.8 1061.9,199.8 1055.4,196.1" fill="#F8E9A6" />
<polygon points="1079.2,195.8 1085.7,199.6 1085.7,213.6 1079.2,209.8" fill="#F8E9A6" />
<line x1="1063.2" y1="187.6" x2="1077.9" y2="196.1" stroke="#4a4444" stroke-width="1.50" />
<line x1="1063.2" y1="191.1" x2="1077.9" y2="199.6" stroke="#4a4444" stroke-width="1.50" />
<line x1="1063.2" y1="194.6" x2="1077.9" y2="203.1" stroke="#4a4444" stroke-width="1.50" />
<line x1="1063.2" y1="198.1" x2="1077.9" y2="206.6" stroke="#4a4444" stroke-width="1.50" />
<polygon points="1053.3,164.8 1055.4,166.1 1055.4,176.1 1053.3,174.8" fill="#666" />
<polygon points="1055.4,166.1 1057.2,165.1 1057.2,175.1 1055.4,176.1" fill="#555" />
<polygon points="1055.0,163.8 1057.2,165.1 1055.4,166.1 1053.3,164.8" fill="#777" />
<polygon points="1051.1,199.1 1084.0,218.1 1084.0,228.1 1051.1,209.1" fill="#7f7f7d" />
<polygon points="1084.0,218.1 1087.0,216.3 1087.0,226.3 1084.0,228.1" fill="#6c6c6a" />
<polygon points="1054.1,197.3 1087.0,216.3 1084.0,218.1 1051.1,199.1" fill="#a5a5a3" />
<polygon points="1062.3,208.1 1072.7,214.1 1072.7,219.1 1062.3,213.1" fill="#ffffff" />
<path d="M818.1,614.7 C818.2,612.7 819.5,609.9 821.2,607.5 C822.8,605.1 825.4,602.5 828.1,600.3 C830.7,598.0 828.1,599.6 837.1,593.9 C846.1,588.3 867.2,575.5 882.2,566.3 C897.2,557.1 917.7,543.5 927.3,538.9 C937.0,534.2 935.5,537.9 940.0,538.5 C944.5,539.1 950.2,540.8 954.4,542.5 C958.6,544.2 962.4,546.6 965.2,548.8 C968.0,551.1 970.3,553.7 971.2,556.0 C972.0,558.3 978.8,556.8 970.3,562.7 C961.8,568.7 936.9,582.1 920.1,591.8 C903.3,601.5 879.9,615.4 869.6,621.0 C859.2,626.6 861.7,624.5 857.8,625.5 C853.9,626.6 849.9,627.2 846.1,627.3 C842.3,627.5 838.6,627.0 835.3,626.4 C832.0,625.8 828.7,624.9 826.2,623.7 C823.8,622.5 821.8,620.7 820.5,619.2 C819.1,617.7 818.0,616.6 818.1,614.7 Z" fill="#2d2d2d" transform="translate(6,11.1)"/>
<path d="M818.1,623.3 C818.2,621.3 819.5,618.5 821.2,616.1 C822.8,613.7 825.4,611.1 828.1,608.9 C830.7,606.6 828.1,608.2 837.1,602.5 C846.1,596.9 867.2,584.1 882.2,574.9 C897.2,565.7 917.7,552.1 927.3,547.5 C937.0,542.8 935.5,546.5 940.0,547.1 C944.5,547.7 950.2,549.4 954.4,551.1 C958.6,552.8 962.4,555.2 965.2,557.4 C968.0,559.7 970.3,562.3 971.2,564.6 C972.0,566.9 978.8,565.4 970.3,571.3 C961.8,577.3 936.9,590.7 920.1,600.4 C903.3,610.1 879.9,624.0 869.6,629.6 C859.2,635.2 861.7,633.1 857.8,634.1 C853.9,635.2 849.9,635.8 846.1,635.9 C842.3,636.1 838.6,635.6 835.3,635.0 C832.0,634.4 828.7,633.5 826.2,632.3 C823.8,631.1 821.8,629.3 820.5,627.8 C819.1,626.3 818.0,625.2 818.1,623.3 Z" fill="#2F97F0"/>
<polygon points="818.1,614.7 970.3,562.7 970.3,571.3 818.1,623.3" fill="#2F97F0" />
<polygon points="970.3,562.7 869.6,621.0 869.6,629.6 970.3,571.3" fill="#2F97F0" />
<path d="M818.1,614.7 C818.2,612.7 819.5,609.9 821.2,607.5 C822.8,605.1 825.4,602.5 828.1,600.3 C830.7,598.0 828.1,599.6 837.1,593.9 C846.1,588.3 867.2,575.5 882.2,566.3 C897.2,557.1 917.7,543.5 927.3,538.9 C937.0,534.2 935.5,537.9 940.0,538.5 C944.5,539.1 950.2,540.8 954.4,542.5 C958.6,544.2 962.4,546.6 965.2,548.8 C968.0,551.1 970.3,553.7 971.2,556.0 C972.0,558.3 978.8,556.8 970.3,562.7 C961.8,568.7 936.9,582.1 920.1,591.8 C903.3,601.5 879.9,615.4 869.6,621.0 C859.2,626.6 861.7,624.5 857.8,625.5 C853.9,626.6 849.9,627.2 846.1,627.3 C842.3,627.5 838.6,627.0 835.3,626.4 C832.0,625.8 828.7,624.9 826.2,623.7 C823.8,622.5 821.8,620.7 820.5,619.2 C819.1,617.7 818.0,616.6 818.1,614.7 Z" fill="#5A5047" stroke="#F3EBDD" stroke-width="1.7" stroke-linejoin="round"/>
<polygon points="829.0,605.3 832.0,601.7 919.4,551.2 924.8,550.8 945.4,563.8 945.7,567.4 857.3,619.7 852.6,619.7" fill="none" stroke="#F3EBDD" stroke-width="0.8" stroke-linejoin="round"/>
<polygon points="831.7,603.0 848.8,613.8 848.8,615.8 831.7,605.0" fill="#D9D0C2" />
<polygon points="848.8,613.8 866.9,603.0 866.9,605.0 848.8,615.8" fill="#C9C0B2" />
<polygon points="831.7,603.0 848.8,592.1 866.9,603.0 848.8,613.8" fill="#FDFBF7" />
<g fill="#2E8EE6" transform="translate(844.10 605.76) skewY(0.0)"><text x="-0.89" y="0" font-family="Liberation Sans, sans-serif" font-weight="bold" font-size="13.4">H<tspan x="8.16" dy="1.1" font-size="7.4">2</tspan></text></g>
<line x1="854.3" y1="612.8" x2="860.8" y2="609.0" stroke="#EDE4D6" stroke-width="0.80" />
<line x1="855.9" y1="613.7" x2="862.4" y2="609.9" stroke="#EDE4D6" stroke-width="0.80" />
<line x1="857.5" y1="614.6" x2="864.0" y2="610.8" stroke="#EDE4D6" stroke-width="0.80" />
<polygon points="869.6,582.2 886.7,593.0 886.7,595.0 869.6,584.2" fill="#D9D0C2" />
<polygon points="886.7,593.0 903.9,582.2 903.9,584.2 886.7,595.0" fill="#C9C0B2" />
<polygon points="869.6,582.2 886.7,571.4 903.9,582.2 886.7,593.0" fill="#FDFBF7" />
<g fill="#2E8EE6" transform="translate(882.00 585.36) skewY(0.0)"><text x="-0.89" y="0" font-family="Liberation Sans, sans-serif" font-weight="bold" font-size="13.4">H<tspan x="8.16" dy="1.1" font-size="7.4">2</tspan></text></g>
<line x1="892.2" y1="592.0" x2="898.7" y2="588.2" stroke="#EDE4D6" stroke-width="0.80" />
<line x1="893.8" y1="592.9" x2="900.3" y2="589.1" stroke="#EDE4D6" stroke-width="0.80" />
<line x1="895.4" y1="593.8" x2="901.9" y2="590.0" stroke="#EDE4D6" stroke-width="0.80" />
<polygon points="903.9,562.3 920.1,573.2 920.1,575.2 903.9,564.3" fill="#D9D0C2" />
<polygon points="920.1,573.2 937.3,562.3 937.3,564.3 920.1,575.2" fill="#C9C0B2" />
<polygon points="903.9,562.3 920.1,551.9 937.3,562.3 920.1,573.2" fill="#FDFBF7" />
<g fill="#2E8EE6" transform="translate(915.39 565.14) skewY(0.0)"><text x="-0.89" y="0" font-family="Liberation Sans, sans-serif" font-weight="bold" font-size="13.4">H<tspan x="8.16" dy="1.1" font-size="7.4">2</tspan></text></g>
<line x1="925.6" y1="572.2" x2="932.1" y2="568.4" stroke="#EDE4D6" stroke-width="0.80" />
<line x1="927.2" y1="573.1" x2="933.7" y2="569.3" stroke="#EDE4D6" stroke-width="0.80" />
<line x1="928.8" y1="574.0" x2="935.3" y2="570.2" stroke="#EDE4D6" stroke-width="0.80" />
<polygon points="825.3,613.5 828.1,615.1 828.1,617.5 825.3,615.9" fill="#CFC6B8" />
<polygon points="828.1,615.1 830.8,613.5 830.8,615.9 828.1,617.5" fill="#DDD4C6" />
<polygon points="828.1,611.9 830.8,613.5 828.1,615.1 825.3,613.5" fill="#F7F0E4" />
<rect x="946.9" y="519.8" width="10.5" height="23.7" fill="#2F97F0"/>
<ellipse cx="952.1" cy="543.5" rx="5.2" ry="2.6" fill="#2F97F0" />
<ellipse cx="952.1" cy="519.8" rx="5.2" ry="2.4" fill="#2A86D8" />
<polygon points="928.0,542.2 949.2,554.5 949.2,562.5 928.0,550.2" fill="#E6DCCB" />
<polygon points="949.2,554.5 963.9,546.0 963.9,554.0 949.2,562.5" fill="#D5CBBA" />
<polygon points="942.7,533.8 963.9,546.0 949.2,554.5 928.0,542.2" fill="#F4ECDD" />
<polygon points="929.9,548.2 931.2,549.0 931.2,550.5 929.9,549.8" fill="#9c8f7c" />
<polygon points="929.9,545.2 931.2,546.0 931.2,547.5 929.9,546.8" fill="#9c8f7c" />
<polygon points="933.6,550.4 934.9,551.1 934.9,552.6 933.6,551.9" fill="#9c8f7c" />
<polygon points="933.6,547.4 934.9,548.1 934.9,549.6 933.6,548.9" fill="#9c8f7c" />
<polygon points="937.3,552.5 938.6,553.3 938.6,554.8 937.3,554.0" fill="#9c8f7c" />
<polygon points="937.3,549.5 938.6,550.3 938.6,551.8 937.3,551.0" fill="#9c8f7c" />
<polygon points="941.1,554.7 942.4,555.4 942.4,556.9 941.1,556.2" fill="#9c8f7c" />
<polygon points="941.1,551.7 942.4,552.4 942.4,553.9 941.1,553.2" fill="#9c8f7c" />
<polygon points="944.8,556.9 946.1,557.6 946.1,559.1 944.8,558.4" fill="#9c8f7c" />
<polygon points="944.8,553.9 946.1,554.6 946.1,556.1 944.8,555.4" fill="#9c8f7c" />
<polygon points="934.9,537.1 951.4,546.6 951.4,549.2 934.9,539.8" fill="#E0D6C5" />
<polygon points="951.4,546.6 959.2,542.1 959.2,544.8 951.4,549.2" fill="#CFC5B4" />
<polygon points="942.7,532.6 959.2,542.1 951.4,546.6 934.9,537.1" fill="#FBF4E6" />
<polygon points="941.8,536.4 948.8,540.4 948.8,542.1 941.8,538.1" fill="#A89C86" />
<polygon points="948.8,540.4 952.7,538.1 952.7,539.9 948.8,542.1" fill="#C2B8A6" />
<polygon points="945.7,534.1 952.7,538.1 948.8,540.4 941.8,536.4" fill="#EADFCB" />
<polygon points="938.0,538.0 940.2,535.8 923.0,529.0" fill="#F6EFE2" />
<polygon points="1050.7,554.5 1092.3,578.5 949.4,661.0 907.8,637.0" fill="#0d0d0d" />
<polygon points="1042.0,535.5 1073.2,553.5 1073.2,573.5 1042.0,555.5" fill="#DADADA" />
<polygon points="1073.2,553.5 1081.0,549.0 1081.0,569.0 1073.2,573.5" fill="#CFCFCF" />
<polygon points="1049.8,531.0 1081.0,549.0 1073.2,553.5 1042.0,535.5" fill="#EDEDED" />
<polygon points="942.4,612.0 968.4,627.0 968.4,632.0 942.4,617.0" fill="#444" />
<polygon points="968.4,627.0 1072.3,567.0 1072.3,572.0 968.4,632.0" fill="#4d4d4d" />
<polygon points="1046.4,552.0 1072.3,567.0 968.4,627.0 942.4,612.0" fill="#555" />
<polygon points="1027.3,588.0 1032.5,591.0 1032.5,597.0 1027.3,594.0" fill="#CFCFCF" />
<polygon points="1032.5,591.0 1046.4,583.0 1046.4,589.0 1032.5,597.0" fill="#D9D9D9" />
<polygon points="1041.2,580.0 1046.4,583.0 1032.5,591.0 1027.3,588.0" fill="#E8E8E8" />
<polygon points="1058.8,579.2 1059.0,577.4 1059.6,575.6 1060.5,573.7 1061.6,572.1 1063.0,570.6 1064.4,569.6 1065.8,569.0 1067.2,568.9 1068.3,569.2 1072.6,571.7 1073.5,572.5 1074.1,573.8 1074.2,575.3 1074.1,577.1 1073.5,578.9 1072.6,580.8 1071.5,582.4 1070.2,583.9 1068.7,584.9 1067.3,585.5 1065.9,585.6 1064.8,585.3 1060.5,582.8 1059.6,582.0 1059.0,580.8" fill="#1f1f1f" />
<polygon points="1063.2,581.7 1063.4,579.9 1063.9,578.1 1064.8,576.2 1065.9,574.6 1067.3,573.1 1068.7,572.1 1070.1,571.5 1071.5,571.4 1072.6,571.7 1073.5,572.5 1074.1,573.8 1074.3,575.3 1074.1,577.1 1073.5,578.9 1072.6,580.8 1071.5,582.4 1070.1,583.9 1068.7,584.9 1067.3,585.5 1065.9,585.6 1064.8,585.3 1063.9,584.5 1063.4,583.2" fill="#2e2e2e" />
<polygon points="1065.5,580.4 1065.6,579.3 1065.9,578.3 1066.4,577.2 1067.1,576.2 1067.9,575.4 1068.7,574.8 1069.5,574.4 1070.3,574.4 1071.0,574.6 1071.5,575.0 1071.8,575.7 1071.9,576.6 1071.8,577.7 1071.5,578.7 1071.0,579.8 1070.3,580.8 1069.5,581.6 1068.7,582.2 1067.9,582.6 1067.1,582.6 1066.4,582.4 1065.9,582.0 1065.6,581.3" fill="#EDEDED" />
<polygon points="1067.3,579.3 1067.4,578.9 1067.5,578.4 1067.7,577.9 1068.0,577.5 1068.4,577.2 1068.7,576.9 1069.1,576.7 1069.4,576.7 1069.7,576.8 1069.9,577.0 1070.0,577.3 1070.1,577.7 1070.0,578.1 1069.9,578.6 1069.7,579.1 1069.4,579.5 1069.1,579.8 1068.7,580.1 1068.4,580.3 1068.0,580.3 1067.7,580.2 1067.5,580.0 1067.4,579.7" fill="#8f8f8f" />
<polygon points="1042.7,588.5 1042.9,586.7 1043.5,584.9 1044.3,583.0 1045.5,581.4 1046.8,580.0 1048.3,578.9 1049.7,578.3 1051.0,578.2 1052.2,578.5 1056.5,581.0 1057.4,581.8 1058.0,583.0 1058.2,584.6 1058.0,586.4 1057.4,588.2 1056.5,590.1 1055.4,591.7 1054.0,593.1 1052.6,594.2 1051.2,594.8 1049.8,594.9 1048.7,594.6 1044.3,592.1 1043.5,591.3 1042.9,590.0" fill="#1f1f1f" />
<polygon points="1047.1,591.0 1047.2,589.2 1047.8,587.4 1048.7,585.5 1049.8,583.9 1051.2,582.4 1052.6,581.4 1054.0,580.8 1055.4,580.7 1056.5,581.0 1057.4,581.8 1058.0,583.1 1058.1,584.6 1058.0,586.4 1057.4,588.2 1056.5,590.1 1055.4,591.7 1054.0,593.2 1052.6,594.2 1051.2,594.8 1049.8,594.9 1048.7,594.6 1047.8,593.8 1047.2,592.5" fill="#2e2e2e" />
<polygon points="1049.4,589.7 1049.5,588.6 1049.8,587.6 1050.3,586.5 1051.0,585.5 1051.8,584.7 1052.6,584.1 1053.4,583.7 1054.2,583.7 1054.9,583.9 1055.4,584.3 1055.7,585.0 1055.8,585.9 1055.7,587.0 1055.4,588.0 1054.9,589.1 1054.2,590.1 1053.4,590.9 1052.6,591.5 1051.8,591.9 1051.0,591.9 1050.3,591.7 1049.8,591.3 1049.5,590.6" fill="#EDEDED" />
<polygon points="1051.2,588.6 1051.3,588.2 1051.4,587.7 1051.6,587.2 1051.9,586.8 1052.2,586.5 1052.6,586.2 1053.0,586.0 1053.3,586.0 1053.6,586.1 1053.8,586.3 1053.9,586.6 1054.0,587.0 1053.9,587.4 1053.8,587.9 1053.6,588.4 1053.3,588.8 1053.0,589.1 1052.6,589.4 1052.2,589.6 1051.9,589.6 1051.6,589.5 1051.4,589.3 1051.3,589.0" fill="#8f8f8f" />
<polygon points="988.9,619.6 989.1,617.7 989.6,615.7 990.6,613.8 991.8,612.0 993.2,610.5 994.8,609.4 996.3,608.8 997.7,608.6 998.9,609.0 1003.2,611.5 1004.2,612.4 1004.8,613.7 1005.0,615.3 1004.8,617.2 1004.2,619.2 1003.2,621.1 1002.0,622.9 1000.6,624.4 999.1,625.5 997.6,626.1 996.1,626.3 994.9,625.9 990.6,623.4 989.6,622.5 989.1,621.2" fill="#1f1f1f" />
<polygon points="993.2,622.1 993.4,620.2 994.0,618.2 994.9,616.3 996.1,614.5 997.6,613.0 999.1,611.9 1000.6,611.3 1002.0,611.1 1003.2,611.5 1004.2,612.4 1004.8,613.7 1005.0,615.3 1004.8,617.2 1004.2,619.2 1003.2,621.1 1002.0,622.9 1000.6,624.4 999.1,625.5 997.6,626.1 996.1,626.3 994.9,625.9 994.0,625.0 993.4,623.7" fill="#2e2e2e" />
<polygon points="995.7,620.7 995.8,619.6 996.1,618.4 996.7,617.3 997.4,616.3 998.2,615.4 999.1,614.8 1000.0,614.4 1000.8,614.3 1001.5,614.5 1002.0,615.0 1002.4,615.8 1002.5,616.7 1002.4,617.8 1002.0,619.0 1001.5,620.1 1000.8,621.1 1000.0,622.0 999.1,622.6 998.2,623.0 997.4,623.1 996.7,622.9 996.1,622.4 995.8,621.6" fill="#EDEDED" />
<polygon points="997.6,619.5 997.7,619.1 997.8,618.6 998.0,618.1 998.3,617.7 998.7,617.3 999.1,617.0 999.5,616.8 999.8,616.8 1000.1,616.9 1000.4,617.1 1000.5,617.4 1000.6,617.9 1000.5,618.3 1000.4,618.8 1000.1,619.3 999.8,619.7 999.5,620.1 999.1,620.4 998.7,620.6 998.3,620.6 998.0,620.5 997.8,620.3 997.7,620.0" fill="#8f8f8f" />
<polygon points="990.9,623.4 991.1,621.2 991.7,618.9 992.7,616.5 994.0,614.2 995.5,612.2 997.3,610.5 999.1,609.2 1000.9,608.4 1002.7,608.1 1004.2,608.3 1005.5,609.1 1006.5,610.3 1007.1,612.0 1007.3,613.9 1005.7,614.9 1005.5,613.3 1005.0,612.0 1004.2,611.0 1003.2,610.4 1001.9,610.2 1000.5,610.4 999.1,611.1 997.6,612.1 996.2,613.5 995.0,615.1 993.9,616.9 993.2,618.8 992.7,620.7 992.5,622.5" fill="#E4E4E4" />
<polygon points="960.2,586.8 960.6,583.1 961.7,580.0 963.5,577.8 965.9,576.4 1043.0,531.9 1045.8,531.4 1049.1,532.0 1052.4,533.5 1055.8,535.9 1059.0,539.0 1061.9,542.8 1064.3,546.9 1066.1,551.3 1067.2,555.6 1067.6,559.8 1067.2,563.4 1066.1,566.5 1064.3,568.8 1061.9,570.1 984.8,614.6 981.9,615.1 978.7,614.5 975.4,613.0 972.0,610.6 968.8,607.5 965.9,603.7 963.5,599.6 961.7,595.2 960.6,590.9" fill="#2F97F0" />
<polygon points="1063.1,569.6 1063.5,569.3 1063.9,569.1 1064.2,568.8 1064.5,568.5 1064.8,568.2 1065.1,567.9 1065.4,567.6 1065.6,567.2 1065.9,566.8 1066.1,566.4 1066.3,566.0 1066.5,565.5 1066.7,565.1 1066.9,564.6 1067.0,564.1 1067.2,563.6 1067.3,563.1 1067.4,562.6 1067.4,562.0 1067.5,561.4 1067.6,560.9 1067.6,560.3 1067.6,559.7 1067.6,559.1 1067.5,558.5 1067.5,557.8 1067.4,557.2 1067.4,556.6 990.3,601.1 990.4,601.7 990.4,602.3 990.5,603.0 990.5,603.6 990.5,604.2 990.5,604.8 990.5,605.4 990.4,605.9 990.4,606.5 990.3,607.1 990.2,607.6 990.1,608.1 990.0,608.6 989.8,609.1 989.6,609.6 989.5,610.0 989.3,610.5 989.0,610.9 988.8,611.3 988.6,611.7 988.3,612.1 988.0,612.4 987.7,612.7 987.4,613.0 987.1,613.3 986.8,613.6 986.4,613.8 986.1,614.1" fill="#2585DA" />
<polygon points="1055.1,570.2 1055.4,568.7 1055.5,567.2 1055.4,565.6 1055.3,563.9 1055.0,562.2 1054.6,560.4 1054.1,558.6 1053.4,556.8 1052.7,555.0 1051.8,553.3 1050.9,551.6 1049.8,549.9 1048.7,548.3 1047.5,546.8 1046.3,545.4 1045.0,544.1 1043.7,542.9 1042.3,541.8 1040.9,540.9 1039.5,540.1 1038.1,539.4 1036.8,538.9 1035.4,538.6 1034.1,538.5 1032.9,538.5 1031.7,538.6 1030.6,539.0 1029.6,539.4 986.3,564.4 987.3,564.0 988.4,563.6 989.6,563.5 990.8,563.5 992.1,563.6 993.5,563.9 994.8,564.4 996.2,565.1 997.6,565.9 999.0,566.8 1000.3,567.9 1001.7,569.1 1003.0,570.4 1004.2,571.8 1005.4,573.3 1006.5,574.9 1007.6,576.6 1008.5,578.3 1009.4,580.0 1010.1,581.8 1010.8,583.6 1011.3,585.4 1011.7,587.2 1012.0,588.9 1012.1,590.6 1012.2,592.2 1012.1,593.7 1011.8,595.2" fill="#DCE9F5" />
<polygon points="1053.7,557.5 1053.2,556.2 1052.6,554.9 1052.0,553.6 1051.3,552.4 1050.6,551.1 1049.9,549.9 1049.1,548.8 1048.2,547.6 1047.3,546.5 1046.4,545.5 1045.5,544.5 1044.5,543.6 1043.5,542.8 1042.5,542.0 1041.5,541.3 1040.5,540.6 1039.5,540.1 1038.5,539.6 1037.5,539.2 1036.5,538.9 1035.6,538.6 1034.6,538.5 1033.7,538.4 1032.8,538.5 1031.9,538.6 1031.1,538.8 1030.3,539.1 1029.6,539.4 986.3,564.4 987.0,564.1 987.8,563.8 988.6,563.6 989.5,563.5 990.4,563.4 991.3,563.5 992.3,563.6 993.2,563.9 994.2,564.2 995.2,564.6 996.2,565.1 997.2,565.6 998.2,566.3 999.2,567.0 1000.2,567.8 1001.2,568.6 1002.2,569.5 1003.1,570.5 1004.0,571.5 1004.9,572.6 1005.8,573.8 1006.6,574.9 1007.3,576.1 1008.0,577.4 1008.7,578.6 1009.3,579.9 1009.9,581.2 1010.4,582.5" fill="#F4F8FC" />
<polygon points="1047.4,546.7 1047.1,546.3 1046.8,545.9 1046.5,545.6 1046.1,545.2 1045.8,544.9 1045.5,544.5 1045.1,544.2 1044.8,543.9 1044.4,543.5 1044.1,543.2 1043.7,542.9 1043.4,542.6 1043.0,542.4 1042.7,542.1 1042.3,541.8 1042.0,541.6 1041.6,541.3 1041.2,541.1 1040.9,540.9 1040.5,540.6 1040.2,540.4 1039.8,540.2 1039.5,540.0 1039.1,539.9 1038.7,539.7 1038.4,539.5 1038.0,539.4 1037.7,539.2 994.4,564.2 994.7,564.4 995.1,564.5 995.4,564.7 995.8,564.9 996.2,565.0 996.5,565.2 996.9,565.4 997.2,565.6 997.6,565.9 997.9,566.1 998.3,566.3 998.7,566.6 999.0,566.8 999.4,567.1 999.7,567.4 1000.1,567.6 1000.4,567.9 1000.8,568.2 1001.1,568.5 1001.5,568.9 1001.8,569.2 1002.2,569.5 1002.5,569.9 1002.8,570.2 1003.2,570.6 1003.5,570.9 1003.8,571.3 1004.1,571.7" fill="#FFFFFF" />
<polygon points="1051.0,576.6 1051.2,576.4 1051.5,576.3 1051.7,576.1 1051.9,576.0 1052.1,575.8 1052.3,575.7 1052.4,575.5 1052.6,575.3 1052.8,575.1 1053.0,574.9 1053.2,574.7 1053.3,574.5 1053.5,574.3 1053.6,574.0 1053.8,573.8 1053.9,573.6 1054.0,573.3 1054.2,573.1 1054.3,572.8 1054.4,572.5 1054.5,572.3 1054.6,572.0 1054.7,571.7 1054.8,571.4 1054.9,571.1 1055.0,570.8 1055.1,570.5 1055.1,570.2 1011.8,595.2 1011.8,595.5 1011.7,595.8 1011.6,596.1 1011.5,596.4 1011.4,596.7 1011.3,597.0 1011.2,597.3 1011.1,597.5 1011.0,597.8 1010.9,598.1 1010.7,598.3 1010.6,598.6 1010.5,598.8 1010.3,599.0 1010.2,599.3 1010.0,599.5 1009.9,599.7 1009.7,599.9 1009.5,600.1 1009.3,600.3 1009.1,600.5 1009.0,600.7 1008.8,600.8 1008.6,601.0 1008.4,601.1 1008.2,601.3 1007.9,601.4 1007.7,601.6" fill="#2585DA" />
<polygon points="1064.0,546.5 1063.6,545.6 1063.1,544.8 1062.7,544.0 1062.2,543.2 1061.7,542.4 1061.1,541.7 1060.6,540.9 1060.0,540.2 1059.4,539.5 1058.8,538.8 1058.2,538.2 1057.6,537.5 1057.0,536.9 1056.4,536.4 1055.7,535.8 1055.1,535.3 1054.4,534.8 1053.8,534.3 1053.1,533.9 1052.4,533.5 1051.8,533.1 1051.1,532.8 1050.5,532.5 1049.8,532.2 1049.1,532.0 1048.5,531.8 1047.9,531.7 1047.2,531.6 1035.1,538.6 1035.7,538.7 1036.4,538.8 1037.0,539.0 1037.7,539.2 1038.3,539.5 1039.0,539.8 1039.6,540.1 1040.3,540.5 1041.0,540.9 1041.6,541.3 1042.3,541.8 1042.9,542.3 1043.6,542.8 1044.2,543.4 1044.9,543.9 1045.5,544.5 1046.1,545.2 1046.7,545.8 1047.3,546.5 1047.9,547.2 1048.4,547.9 1049.0,548.7 1049.5,549.4 1050.0,550.2 1050.5,551.0 1051.0,551.8 1051.5,552.6 1051.9,553.5" fill="#4FAEFA" />
<polygon points="1008.6,578.5 1008.2,577.6 1007.7,576.8 1007.2,576.0 1006.7,575.2 1006.2,574.4 1005.7,573.7 1005.1,572.9 1004.6,572.2 1004.0,571.5 1003.4,570.8 1002.8,570.2 1002.2,569.5 1001.6,568.9 1000.9,568.4 1000.3,567.8 999.6,567.3 999.0,566.8 998.3,566.3 997.7,565.9 997.0,565.5 996.3,565.1 995.7,564.8 995.0,564.5 994.4,564.2 993.7,564.0 993.1,563.8 992.4,563.7 991.8,563.6 970.2,576.1 970.8,576.2 971.4,576.3 972.1,576.5 972.7,576.7 973.4,577.0 974.0,577.3 974.7,577.6 975.4,578.0 976.0,578.4 976.7,578.8 977.3,579.3 978.0,579.8 978.6,580.3 979.3,580.9 979.9,581.4 980.5,582.0 981.2,582.7 981.8,583.3 982.4,584.0 982.9,584.7 983.5,585.4 984.0,586.2 984.6,586.9 985.1,587.7 985.6,588.5 986.1,589.3 986.5,590.1 987.0,591.0" fill="#4FAEFA" />
<polygon points="962.1,592.0 962.6,587.7 964.6,576.9 965.9,576.4 977.1,573.2 981.4,572.7 985.7,573.2 989.8,574.6 993.4,576.9 996.5,580.0 998.8,583.6 1000.2,587.7 1000.7,592.0 1000.2,596.3 998.8,600.4 996.5,604.0 993.4,607.1 987.2,613.2 986.1,614.1 973.0,609.4 969.4,607.1 966.3,604.0 964.0,600.4 962.6,596.3" fill="#2F97F0" />
<text transform="matrix(0.269 -0.156 0.258 0.237 1006.17 567.26)" x="0" y="0" font-family="Liberation Sans, sans-serif" font-weight="bold" font-size="20" fill="#5A9BD8">HYDROGEN</text>
<polygon points="976.2,599.0 970.2,602.5 962.4,618.0 962.4,635.5 976.2,627.5" fill="#E9E9EB" />
<polygon points="974.5,602.0 970.2,604.5 964.5,615.8 974.5,610.0" fill="#27323d" />
<polygon points="966.7,610.5 968.0,611.2 968.0,620.2 966.7,619.5" fill="#2a2a2a" />
<polygon points="968.0,611.2 970.2,610.0 970.2,619.0 968.0,620.2" fill="#333" />
<polygon points="968.9,609.2 970.2,610.0 968.0,611.2 966.7,610.5" fill="#3a3a3a" />
<polygon points="946.8,582.0 976.2,599.0 970.2,602.5 940.7,585.5" fill="#F7F7F9" />
<polygon points="945.0,585.2 953.7,590.2 953.7,592.0 945.0,587.0" fill="#E88E1C" />
<polygon points="953.7,590.2 957.6,588.0 957.6,589.8 953.7,592.0" fill="#D97F12" />
<polygon points="948.9,583.0 957.6,588.0 953.7,590.2 945.0,585.2" fill="#F7A531" />
<polygon points="957.2,592.2 965.8,597.2 965.8,599.0 957.2,594.0" fill="#E88E1C" />
<polygon points="965.8,597.2 969.7,595.0 969.7,596.8 965.8,599.0" fill="#D97F12" />
<polygon points="961.1,590.0 969.7,595.0 965.8,597.2 957.2,592.2" fill="#F7A531" />
<polygon points="940.7,585.5 970.2,602.5 962.4,618.0 932.9,601.0" fill="#2b3947" />
<polygon points="940.7,585.5 942.0,586.2 934.2,601.8 932.9,601.0" fill="#E9E9EB" />
<polygon points="968.9,601.8 970.2,602.5 962.4,618.0 961.1,617.2" fill="#F4F4F6" />
<polygon points="915.6,618.5 948.5,637.5 948.5,646.5 915.6,627.5" fill="#DEDEE2" />
<polygon points="948.5,637.5 964.1,628.5 964.1,637.5 948.5,646.5" fill="#D9D9DD" />
<polygon points="931.2,609.5 964.1,628.5 948.5,637.5 915.6,618.5" fill="#EFEFF1" />
<polygon points="950.2,646.9 950.3,646.0 950.4,645.0 950.6,644.0 950.9,642.9 951.3,641.9 951.8,640.9 952.3,639.9 952.9,638.9 953.6,638.0 954.3,637.2 955.0,636.4 955.8,635.7 956.5,635.1 957.3,634.6 958.1,634.2 958.9,633.9 959.7,633.7 960.4,633.6 961.1,633.7 961.8,633.8 962.4,634.1 962.9,634.5 963.4,635.0 963.7,635.5 964.0,636.2 964.3,637.0 964.4,637.8 964.4,638.7" fill="#3b3b3b" />
<polygon points="951.6,646.3 951.8,644.5 952.4,642.6 953.3,640.7 954.5,638.9 955.9,637.5 957.3,636.4 958.8,635.8 960.2,635.6 961.4,636.0 962.3,636.8 962.9,638.1 963.1,639.7 962.9,641.5 962.3,643.4 961.4,645.3 960.2,647.1 958.8,648.5 957.3,649.6 955.9,650.2 954.5,650.4 953.3,650.0 952.4,649.2 951.8,647.9" fill="#2e2e2e" />
<polygon points="954.0,644.9 954.1,643.9 954.5,642.7 955.0,641.6 955.7,640.6 956.5,639.8 957.3,639.2 958.2,638.8 959.0,638.7 959.7,638.9 960.2,639.4 960.5,640.2 960.7,641.1 960.5,642.1 960.2,643.3 959.7,644.4 959.0,645.4 958.2,646.2 957.3,646.8 956.5,647.2 955.7,647.3 955.0,647.1 954.5,646.6 954.1,645.8" fill="#EDEDED" />
<polygon points="955.9,643.8 956.0,643.4 956.1,642.9 956.3,642.4 956.6,642.0 957.0,641.6 957.3,641.4 957.7,641.2 958.1,641.2 958.4,641.2 958.6,641.5 958.7,641.8 958.8,642.2 958.7,642.6 958.6,643.1 958.4,643.6 958.1,644.0 957.7,644.4 957.3,644.6 957.0,644.8 956.6,644.8 956.3,644.8 956.1,644.5 956.0,644.2" fill="#8f8f8f" />
<polygon points="958.9,616.0 943.3,628.0 943.3,634.5 958.9,625.5" fill="#E2E2E6" />
<polygon points="920.8,615.0 943.3,628.0 943.3,641.5 920.8,628.5" fill="#F0F0F2" />
<polygon points="936.4,603.0 958.9,616.0 943.3,628.0 920.8,615.0" fill="#FBFBFD" />
<polygon points="924.2,618.5 939.8,627.5 939.8,637.5 924.2,628.5" fill="#141414" />
<polygon points="916.8,620.8 920.3,622.8 920.3,626.8 916.8,624.8" fill="#ffffff" />
<polygon points="943.7,636.3 947.1,638.3 947.1,642.3 943.7,640.3" fill="#ffffff" />
<polygon points="911.7,625.8 946.3,645.8 946.3,652.2 911.7,632.2" fill="#ADA8BA" />
<polygon points="946.3,645.8 949.4,644.0 949.4,650.5 946.3,652.2" fill="#9893A6" />
<polygon points="914.7,624.0 949.4,644.0 946.3,645.8 911.7,625.8" fill="#C9C5D2" />
<line x1="673.3" y1="247" x2="675.6" y2="324" stroke="#6FACEE" stroke-width="1.1"/>
<line x1="961.4" y1="242.5" x2="962.3" y2="281" stroke="#6FACEE" stroke-width="1.1"/>
<rect x="856.3" y="411" width="1.1" height="63" fill="#6FACEE"/>
<circle cx="672.9" cy="330.2" r="8.1" fill="#ffffff" stroke="#CFE6FA" stroke-width="0.8"/><circle cx="672.9" cy="330.2" r="4.2" fill="#2F8FEA" />
<circle cx="962.4" cy="287.1" r="8.5" fill="#ffffff" stroke="#CFE6FA" stroke-width="0.8"/><circle cx="962.4" cy="287.1" r="4.4" fill="#2F8FEA" />
<circle cx="856.8" cy="411.0" r="8.3" fill="#ffffff" stroke="#CFE6FA" stroke-width="0.8"/><circle cx="856.8" cy="411.0" r="4.3" fill="#2F8FEA" />
<polygon points="345.0,67.3 361.5,50.8 585.0,50.8 585.0,84.3 568.5,100.8 345.0,100.8" fill="#2F9BF5" />
<polygon points="345.0,67.3 361.5,50.8 364.1,57.0 351.2,69.9" fill="#A8DBFB" />
<polygon points="361.5,50.8 585.0,50.8 578.8,57.0 364.1,57.0" fill="#6DBDFB" />
<polygon points="585.0,50.8 585.0,84.3 578.8,81.7 578.8,57.0" fill="#1E86D6" />
<polygon points="585.0,84.3 568.5,100.8 565.9,94.6 578.8,81.7" fill="#166fb5" />
<polygon points="568.5,100.8 345.0,100.8 351.2,94.6 565.9,94.6" fill="#1E8CE0" />
<polygon points="345.0,100.8 345.0,67.3 351.2,69.9 351.2,94.6" fill="#7DC5F9" />
<polygon points="351.2,69.9 364.1,57.0 578.8,57.0 578.8,81.7 565.9,94.6 351.2,94.6" fill="#2F9BF5" />
<polygon points="894.0,62.5 910.5,46.0 1134.0,46.0 1134.0,79.5 1117.5,96.0 894.0,96.0" fill="#2F9BF5" />
<polygon points="894.0,62.5 910.5,46.0 913.1,52.2 900.2,65.1" fill="#A8DBFB" />
<polygon points="910.5,46.0 1134.0,46.0 1127.8,52.2 913.1,52.2" fill="#6DBDFB" />
<polygon points="1134.0,46.0 1134.0,79.5 1127.8,76.9 1127.8,52.2" fill="#1E86D6" />
<polygon points="1134.0,79.5 1117.5,96.0 1114.9,89.8 1127.8,76.9" fill="#166fb5" />
<polygon points="1117.5,96.0 894.0,96.0 900.2,89.8 1114.9,89.8" fill="#1E8CE0" />
<polygon points="894.0,96.0 894.0,62.5 900.2,65.1 900.2,89.8" fill="#7DC5F9" />
<polygon points="900.2,65.1 913.1,52.2 1127.8,52.2 1127.8,76.9 1114.9,89.8 900.2,89.8" fill="#2F9BF5" />
<polygon points="673.0,489.5 689.5,473.0 912.5,473.0 912.5,507.2 896.0,523.7 673.0,523.7" fill="#2F9BF5" />
<polygon points="673.0,489.5 689.5,473.0 692.1,479.2 679.2,492.1" fill="#A8DBFB" />
<polygon points="689.5,473.0 912.5,473.0 906.3,479.2 692.1,479.2" fill="#6DBDFB" />
<polygon points="912.5,473.0 912.5,507.2 906.3,504.6 906.3,479.2" fill="#1E86D6" />
<polygon points="912.5,507.2 896.0,523.7 893.4,517.5 906.3,504.6" fill="#166fb5" />
<polygon points="896.0,523.7 673.0,523.7 679.2,517.5 893.4,517.5" fill="#1E8CE0" />
<polygon points="673.0,523.7 673.0,489.5 679.2,492.1 679.2,517.5" fill="#7DC5F9" />
<polygon points="679.2,492.1 692.1,479.2 906.3,479.2 906.3,504.6 893.4,517.5 679.2,517.5" fill="#2F9BF5" />
<text x="71.96" y="161.7" font-size="44.7" textLength="178.4" font-family="'Liberation Sans', 'Noto Sans CJK KR', sans-serif" fill="#fff">수소 이송</text>
<text x="105.49" y="218.67" font-size="25.3" textLength="93.8" font-family="'Liberation Sans', 'Noto Sans CJK KR', sans-serif" fill="#fff">액체/기체</text>
<text x="38.1" y="247.81" font-size="25.1" textLength="231.8" font-family="'Liberation Sans', 'Noto Sans CJK KR', sans-serif" fill="#fff">구분없이 모든 영역에서</text>
<text x="38.78" y="276.41" font-size="24.2" textLength="235" font-family="'Liberation Sans', 'Noto Sans CJK KR', sans-serif" fill="#fff">세아 소재가 사용됩니다.</text>
<text x="394.05" y="86.47" font-size="28.4" textLength="142" font-family="'Liberation Sans', 'Noto Sans CJK KR', sans-serif" fill="#fff">파이프 라인</text>
<text x="497" y="220.85" font-size="24.8" textLength="87.7" font-family="'Liberation Sans', 'Noto Sans CJK KR', sans-serif" fill="#fff">용접강관</text>
<text x="717.91" y="220.92" font-size="24.8" textLength="108.3" font-family="'Liberation Sans', 'Noto Sans CJK KR', sans-serif" fill="#fff">심리스강관</text>
<text x="927.04" y="81.53" font-size="26.9" textLength="173.4" font-family="'Liberation Sans', 'Noto Sans CJK KR', sans-serif" fill="#fff">기체 수소 이송</text>
<text x="924.99" y="131.39" font-size="24.1" textLength="110" font-family="'Liberation Sans', 'Noto Sans CJK KR', sans-serif" fill="#fff">심리스강관</text>
<text x="706.74" y="508.48" font-size="26.9" textLength="172.8" font-family="'Liberation Sans', 'Noto Sans CJK KR', sans-serif" fill="#fff">액체 수소 이송</text>
<text x="688.7" y="559.27" font-size="24.8" textLength="138.1" font-family="'Liberation Sans', 'Noto Sans CJK KR', sans-serif" fill="#fff">극저온용 강재</text>
<text x="698.6" y="588.75" font-size="25" textLength="116.9" font-family="'Liberation Sans', 'Noto Sans CJK KR', sans-serif" fill="#fff">내부식 강재</text>
</svg>
</body></html>
